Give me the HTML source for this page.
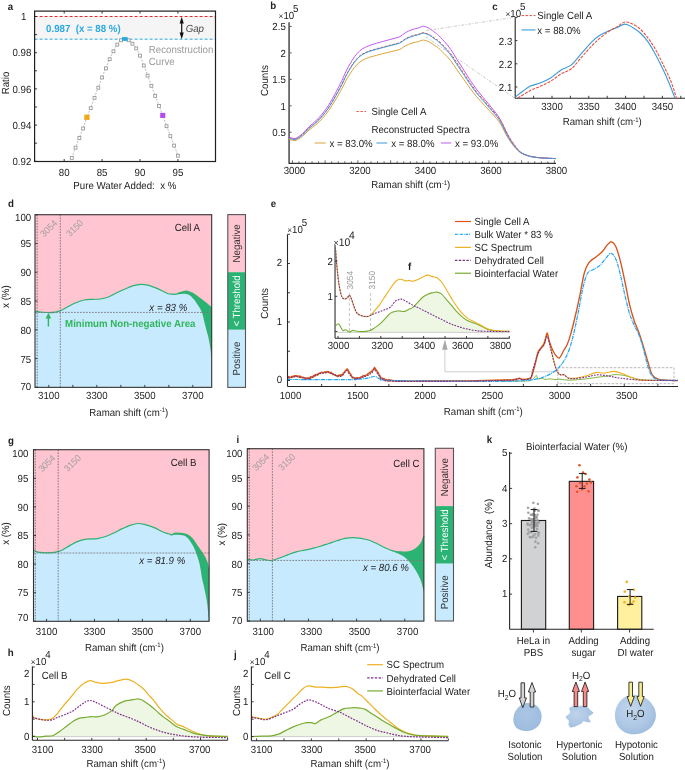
<!DOCTYPE html>
<html><head><meta charset="utf-8"><style>
html,body{margin:0;padding:0;background:#fff;width:685px;height:770px;overflow:hidden}
svg{display:block;font-family:"Liberation Sans", sans-serif;will-change:transform;text-rendering:geometricPrecision}
</style></head><body>
<svg width="685" height="770" viewBox="0 0 685 770">
<rect width="685" height="770" fill="#fff"/>
<text transform="translate(10.5 6.5) scale(0.94 1)" y="3.69" text-anchor="middle" font-size="10.3" fill="#222" font-weight="bold" >a</text>
<rect x="34.6" y="16.5" width="180.9" height="22.7" fill="#F5F5F5" stroke="none" stroke-width="1" />
<line x1="34.6" y1="16.5" x2="215.5" y2="16.5" stroke="#E8282E" stroke-width="1" stroke-dasharray="3,2"/>
<line x1="34.6" y1="39.2" x2="215.5" y2="39.2" stroke="#2BA9E1" stroke-width="1" stroke-dasharray="3,2"/>
<rect x="34.6" y="11.1" width="180.9" height="150.4" fill="none" stroke="#1e1e1e" stroke-width="1.2" />
<line x1="34.6" y1="16.5" x2="37.1" y2="16.5" stroke="#262626" stroke-width="0.9"/>
<line x1="34.6" y1="34.6" x2="37.1" y2="34.6" stroke="#262626" stroke-width="0.9"/>
<line x1="34.6" y1="52.7" x2="37.1" y2="52.7" stroke="#262626" stroke-width="0.9"/>
<line x1="34.6" y1="70.8" x2="37.1" y2="70.8" stroke="#262626" stroke-width="0.9"/>
<line x1="34.6" y1="88.9" x2="37.1" y2="88.9" stroke="#262626" stroke-width="0.9"/>
<line x1="34.6" y1="107" x2="37.1" y2="107" stroke="#262626" stroke-width="0.9"/>
<line x1="34.6" y1="125.1" x2="37.1" y2="125.1" stroke="#262626" stroke-width="0.9"/>
<line x1="34.6" y1="143.2" x2="37.1" y2="143.2" stroke="#262626" stroke-width="0.9"/>
<line x1="34.6" y1="161.3" x2="37.1" y2="161.3" stroke="#262626" stroke-width="0.9"/>
<text transform="translate(26.4 16.5) scale(0.94 1)" y="3.69" text-anchor="end" font-size="10.3" fill="#222" >1</text>
<text transform="translate(31.3 52.7) scale(0.94 1)" y="3.69" text-anchor="end" font-size="10.3" fill="#222" >0.98</text>
<text transform="translate(31.3 88.9) scale(0.94 1)" y="3.69" text-anchor="end" font-size="10.3" fill="#222" >0.96</text>
<text transform="translate(31.3 125.1) scale(0.94 1)" y="3.69" text-anchor="end" font-size="10.3" fill="#222" >0.94</text>
<text transform="translate(31.3 161.3) scale(0.94 1)" y="3.69" text-anchor="end" font-size="10.3" fill="#222" >0.92</text>
<line x1="64.2" y1="161.5" x2="64.2" y2="159" stroke="#262626" stroke-width="0.9"/>
<line x1="64.2" y1="11.1" x2="64.2" y2="13.6" stroke="#262626" stroke-width="0.9"/>
<text transform="translate(64.2 172.3) scale(0.94 1)" y="3.69" text-anchor="middle" font-size="10.3" fill="#222" >80</text>
<line x1="102.1" y1="161.5" x2="102.1" y2="159" stroke="#262626" stroke-width="0.9"/>
<line x1="102.1" y1="11.1" x2="102.1" y2="13.6" stroke="#262626" stroke-width="0.9"/>
<text transform="translate(102.1 172.3) scale(0.94 1)" y="3.69" text-anchor="middle" font-size="10.3" fill="#222" >85</text>
<line x1="140" y1="161.5" x2="140" y2="159" stroke="#262626" stroke-width="0.9"/>
<line x1="140" y1="11.1" x2="140" y2="13.6" stroke="#262626" stroke-width="0.9"/>
<text transform="translate(140 172.3) scale(0.94 1)" y="3.69" text-anchor="middle" font-size="10.3" fill="#222" >90</text>
<line x1="177.9" y1="161.5" x2="177.9" y2="159" stroke="#262626" stroke-width="0.9"/>
<line x1="177.9" y1="11.1" x2="177.9" y2="13.6" stroke="#262626" stroke-width="0.9"/>
<text transform="translate(177.9 172.3) scale(0.94 1)" y="3.69" text-anchor="middle" font-size="10.3" fill="#222" >95</text>
<text transform="translate(5.3 83) rotate(-90) scale(0.94 1)" y="3.69" text-anchor="middle" font-size="10.3" fill="#222" >Ratio</text>
<text transform="translate(124.8 185.5) scale(0.94 1)" y="3.69" text-anchor="middle" font-size="10.3" fill="#222" >Pure Water Added:&#160; x %</text>
<path d="M71.78,157.5 L75.57,147.3 L79.36,137.6 L83.15,128.1 L86.94,117.3 L90.73,107.8 L94.52,97.4 L98.31,87.3 L102.1,77.1 L105.89,68 L109.68,58.8 L113.47,50.9 L117.26,44.2 L121.05,39.9 L124.84,38.9 L128.63,39.9 L132.42,43.3 L136.21,48 L140,55.2 L143.79,65.1 L147.58,75.2 L151.37,85.4 L155.16,95.5 L158.95,105.5 L162.74,115.4 L166.53,125.8 L170.32,135.7 L174.11,145.2 L177.9,155.3" fill="none" stroke="#A6A6A6" stroke-width="0.8" stroke-dasharray="1.8,1.4"/>
<rect x="70.33" y="156.45" width="2.9" height="2.9" fill="#fff" stroke="#969696" stroke-width="0.85" />
<rect x="74.12" y="146.25" width="2.9" height="2.9" fill="#fff" stroke="#969696" stroke-width="0.85" />
<rect x="77.91" y="136.55" width="2.9" height="2.9" fill="#fff" stroke="#969696" stroke-width="0.85" />
<rect x="81.7" y="127.05" width="2.9" height="2.9" fill="#fff" stroke="#969696" stroke-width="0.85" />
<rect x="89.28" y="106.75" width="2.9" height="2.9" fill="#fff" stroke="#969696" stroke-width="0.85" />
<rect x="93.07" y="96.35" width="2.9" height="2.9" fill="#fff" stroke="#969696" stroke-width="0.85" />
<rect x="96.86" y="86.25" width="2.9" height="2.9" fill="#fff" stroke="#969696" stroke-width="0.85" />
<rect x="100.65" y="76.05" width="2.9" height="2.9" fill="#fff" stroke="#969696" stroke-width="0.85" />
<rect x="104.44" y="66.95" width="2.9" height="2.9" fill="#fff" stroke="#969696" stroke-width="0.85" />
<rect x="108.23" y="57.75" width="2.9" height="2.9" fill="#fff" stroke="#969696" stroke-width="0.85" />
<rect x="112.02" y="49.85" width="2.9" height="2.9" fill="#fff" stroke="#969696" stroke-width="0.85" />
<rect x="115.81" y="43.15" width="2.9" height="2.9" fill="#fff" stroke="#969696" stroke-width="0.85" />
<rect x="119.6" y="38.85" width="2.9" height="2.9" fill="#fff" stroke="#969696" stroke-width="0.85" />
<rect x="127.18" y="38.85" width="2.9" height="2.9" fill="#fff" stroke="#969696" stroke-width="0.85" />
<rect x="130.97" y="42.25" width="2.9" height="2.9" fill="#fff" stroke="#969696" stroke-width="0.85" />
<rect x="134.76" y="46.95" width="2.9" height="2.9" fill="#fff" stroke="#969696" stroke-width="0.85" />
<rect x="138.55" y="54.15" width="2.9" height="2.9" fill="#fff" stroke="#969696" stroke-width="0.85" />
<rect x="142.34" y="64.05" width="2.9" height="2.9" fill="#fff" stroke="#969696" stroke-width="0.85" />
<rect x="146.13" y="74.15" width="2.9" height="2.9" fill="#fff" stroke="#969696" stroke-width="0.85" />
<rect x="149.92" y="84.35" width="2.9" height="2.9" fill="#fff" stroke="#969696" stroke-width="0.85" />
<rect x="153.71" y="94.45" width="2.9" height="2.9" fill="#fff" stroke="#969696" stroke-width="0.85" />
<rect x="157.5" y="104.45" width="2.9" height="2.9" fill="#fff" stroke="#969696" stroke-width="0.85" />
<rect x="165.08" y="124.75" width="2.9" height="2.9" fill="#fff" stroke="#969696" stroke-width="0.85" />
<rect x="168.87" y="134.65" width="2.9" height="2.9" fill="#fff" stroke="#969696" stroke-width="0.85" />
<rect x="172.66" y="144.15" width="2.9" height="2.9" fill="#fff" stroke="#969696" stroke-width="0.85" />
<rect x="176.45" y="154.25" width="2.9" height="2.9" fill="#fff" stroke="#969696" stroke-width="0.85" />
<rect x="84.29" y="114.65" width="5.3" height="5.3" fill="#F2A81D" stroke="none" stroke-width="0.8" />
<rect x="122.04" y="37.1" width="5.6" height="3.8" fill="#29A9E1" stroke="none" stroke-width="1" />
<rect x="160.19" y="112.85" width="5.1" height="5.1" fill="#B54BF2" stroke="none" stroke-width="0.8" />
<text transform="translate(46.1 28) scale(0.94 1)" y="3.69" text-anchor="start" font-size="10.3" fill="#2BA9E1" font-weight="bold" >0.987&#160; (x = 88 %)</text>
<line x1="181.7" y1="20" x2="181.7" y2="36" stroke="#111" stroke-width="1.2"/>
<path d="M181.7,16.8 L179.6,23.6 L183.8,23.6 Z" fill="#111" stroke="none" stroke-width="1"/>
<path d="M181.7,39.2 L179.6,32.6 L183.8,32.6 Z" fill="#111" stroke="none" stroke-width="1"/>
<text transform="translate(185.7 28.2) scale(0.94 1)" y="3.69" text-anchor="start" font-size="10.3" fill="#444" font-style="italic" >Gap</text>
<text transform="translate(148.8 49.4) scale(0.94 1)" y="3.69" text-anchor="start" font-size="10.3" fill="#9A9A9A" >Reconstruction</text>
<text transform="translate(148.8 60.8) scale(0.94 1)" y="3.69" text-anchor="start" font-size="10.3" fill="#9A9A9A" >Curve</text>
<text transform="translate(273.3 5.3) scale(0.94 1)" y="3.69" text-anchor="middle" font-size="10.3" fill="#222" font-weight="bold" >b</text>
<text transform="translate(278.6 14.8) scale(0.94 1)" y="3.69" font-size="10.3" fill="#222"><tspan font-size="8.75">&#215;</tspan>10<tspan font-size="10.3" dx="-1.2" dy="-7">5</tspan></text>
<line x1="292.4" y1="163.3" x2="292.4" y2="160.3" stroke="#444" stroke-width="0.8"/>
<line x1="298.95" y1="163.3" x2="298.95" y2="161.3" stroke="#444" stroke-width="0.8"/>
<line x1="305.5" y1="163.3" x2="305.5" y2="161.3" stroke="#444" stroke-width="0.8"/>
<line x1="312.05" y1="163.3" x2="312.05" y2="161.3" stroke="#444" stroke-width="0.8"/>
<line x1="318.6" y1="163.3" x2="318.6" y2="161.3" stroke="#444" stroke-width="0.8"/>
<line x1="325.15" y1="163.3" x2="325.15" y2="160.3" stroke="#444" stroke-width="0.8"/>
<line x1="331.7" y1="163.3" x2="331.7" y2="161.3" stroke="#444" stroke-width="0.8"/>
<line x1="338.25" y1="163.3" x2="338.25" y2="161.3" stroke="#444" stroke-width="0.8"/>
<line x1="344.8" y1="163.3" x2="344.8" y2="161.3" stroke="#444" stroke-width="0.8"/>
<line x1="351.35" y1="163.3" x2="351.35" y2="161.3" stroke="#444" stroke-width="0.8"/>
<line x1="357.9" y1="163.3" x2="357.9" y2="160.3" stroke="#444" stroke-width="0.8"/>
<line x1="364.45" y1="163.3" x2="364.45" y2="161.3" stroke="#444" stroke-width="0.8"/>
<line x1="371" y1="163.3" x2="371" y2="161.3" stroke="#444" stroke-width="0.8"/>
<line x1="377.55" y1="163.3" x2="377.55" y2="161.3" stroke="#444" stroke-width="0.8"/>
<line x1="384.1" y1="163.3" x2="384.1" y2="161.3" stroke="#444" stroke-width="0.8"/>
<line x1="390.65" y1="163.3" x2="390.65" y2="160.3" stroke="#444" stroke-width="0.8"/>
<line x1="397.2" y1="163.3" x2="397.2" y2="161.3" stroke="#444" stroke-width="0.8"/>
<line x1="403.75" y1="163.3" x2="403.75" y2="161.3" stroke="#444" stroke-width="0.8"/>
<line x1="410.3" y1="163.3" x2="410.3" y2="161.3" stroke="#444" stroke-width="0.8"/>
<line x1="416.85" y1="163.3" x2="416.85" y2="161.3" stroke="#444" stroke-width="0.8"/>
<line x1="423.4" y1="163.3" x2="423.4" y2="160.3" stroke="#444" stroke-width="0.8"/>
<line x1="429.95" y1="163.3" x2="429.95" y2="161.3" stroke="#444" stroke-width="0.8"/>
<line x1="436.5" y1="163.3" x2="436.5" y2="161.3" stroke="#444" stroke-width="0.8"/>
<line x1="443.05" y1="163.3" x2="443.05" y2="161.3" stroke="#444" stroke-width="0.8"/>
<line x1="449.6" y1="163.3" x2="449.6" y2="161.3" stroke="#444" stroke-width="0.8"/>
<line x1="456.15" y1="163.3" x2="456.15" y2="160.3" stroke="#444" stroke-width="0.8"/>
<line x1="462.7" y1="163.3" x2="462.7" y2="161.3" stroke="#444" stroke-width="0.8"/>
<line x1="469.25" y1="163.3" x2="469.25" y2="161.3" stroke="#444" stroke-width="0.8"/>
<line x1="475.8" y1="163.3" x2="475.8" y2="161.3" stroke="#444" stroke-width="0.8"/>
<line x1="482.35" y1="163.3" x2="482.35" y2="161.3" stroke="#444" stroke-width="0.8"/>
<line x1="488.9" y1="163.3" x2="488.9" y2="160.3" stroke="#444" stroke-width="0.8"/>
<line x1="495.45" y1="163.3" x2="495.45" y2="161.3" stroke="#444" stroke-width="0.8"/>
<line x1="502" y1="163.3" x2="502" y2="161.3" stroke="#444" stroke-width="0.8"/>
<line x1="508.55" y1="163.3" x2="508.55" y2="161.3" stroke="#444" stroke-width="0.8"/>
<line x1="515.1" y1="163.3" x2="515.1" y2="161.3" stroke="#444" stroke-width="0.8"/>
<line x1="521.65" y1="163.3" x2="521.65" y2="160.3" stroke="#444" stroke-width="0.8"/>
<line x1="528.2" y1="163.3" x2="528.2" y2="161.3" stroke="#444" stroke-width="0.8"/>
<line x1="534.75" y1="163.3" x2="534.75" y2="161.3" stroke="#444" stroke-width="0.8"/>
<line x1="541.3" y1="163.3" x2="541.3" y2="161.3" stroke="#444" stroke-width="0.8"/>
<line x1="547.85" y1="163.3" x2="547.85" y2="161.3" stroke="#444" stroke-width="0.8"/>
<line x1="554.4" y1="163.3" x2="554.4" y2="160.3" stroke="#444" stroke-width="0.8"/>
<line x1="289.1" y1="132.25" x2="291.6" y2="132.25" stroke="#444" stroke-width="0.9"/>
<text transform="translate(285.8 132.25) scale(0.94 1)" y="3.69" text-anchor="end" font-size="10.3" fill="#222" >0.5</text>
<line x1="289.1" y1="105.8" x2="291.6" y2="105.8" stroke="#444" stroke-width="0.9"/>
<text transform="translate(285.8 105.8) scale(0.94 1)" y="3.69" text-anchor="end" font-size="10.3" fill="#222" >1</text>
<line x1="289.1" y1="79.35" x2="291.6" y2="79.35" stroke="#444" stroke-width="0.9"/>
<text transform="translate(285.8 79.35) scale(0.94 1)" y="3.69" text-anchor="end" font-size="10.3" fill="#222" >1.5</text>
<line x1="289.1" y1="52.9" x2="291.6" y2="52.9" stroke="#444" stroke-width="0.9"/>
<text transform="translate(285.8 52.9) scale(0.94 1)" y="3.69" text-anchor="end" font-size="10.3" fill="#222" >2</text>
<line x1="289.1" y1="26.45" x2="291.6" y2="26.45" stroke="#444" stroke-width="0.9"/>
<text transform="translate(285.8 26.45) scale(0.94 1)" y="3.69" text-anchor="end" font-size="10.3" fill="#222" >2.5</text>
<text transform="translate(294.4 170.4) scale(0.94 1)" y="3.69" text-anchor="middle" font-size="10.3" fill="#222" >3000</text>
<text transform="translate(359.9 170.4) scale(0.94 1)" y="3.69" text-anchor="middle" font-size="10.3" fill="#222" >3200</text>
<text transform="translate(425.4 170.4) scale(0.94 1)" y="3.69" text-anchor="middle" font-size="10.3" fill="#222" >3400</text>
<text transform="translate(490.9 170.4) scale(0.94 1)" y="3.69" text-anchor="middle" font-size="10.3" fill="#222" >3600</text>
<text transform="translate(556.4 170.4) scale(0.94 1)" y="3.69" text-anchor="middle" font-size="10.3" fill="#222" >3800</text>
<line x1="289.1" y1="22.2" x2="289.1" y2="163.9" stroke="#666" stroke-width="1.8"/>
<line x1="289.1" y1="163.3" x2="556" y2="163.3" stroke="#333" stroke-width="1.2"/>
<text transform="translate(263.8 80.6) rotate(-90) scale(0.94 1)" y="3.69" text-anchor="middle" font-size="10.3" fill="#222" >Counts</text>
<text transform="translate(410.7 184.4) scale(0.94 1)" y="3.69" text-anchor="middle" font-size="10.3" fill="#222">Raman shift (cm<tspan font-size="6.38" dy="-3.4">-1</tspan><tspan dy="3.4">)</tspan></text>
<path d="M288.8,139.33 C289.33,139.47 290.8,140 292,140.18 C293.2,140.35 294.25,141.01 296,140.37 C297.75,139.72 300.32,138.02 302.5,136.3 C304.68,134.59 306.9,131.97 309.1,130.07 C311.3,128.16 313.52,126.77 315.7,124.87 C317.88,122.96 320.02,121.04 322.2,118.63 C324.38,116.22 326.6,113.51 328.8,110.41 C331,107.31 333.22,103.64 335.4,100.02 C337.58,96.39 340.17,91.87 341.9,88.68 C343.63,85.48 344.45,83.3 345.8,80.83 C347.15,78.36 348.53,76.09 350,73.84 C351.47,71.59 352.93,69.32 354.6,67.32 C356.27,65.32 358.18,63.26 360,61.84 C361.82,60.42 363.67,59.65 365.5,58.81 C367.33,57.98 369.17,57.41 371,56.83 C372.83,56.25 374.62,55.82 376.5,55.32 C378.38,54.81 380.35,54.29 382.3,53.81 C384.25,53.32 386.25,52.86 388.2,52.39 C390.15,51.92 392.05,51.47 394,50.97 C395.95,50.47 398,50.21 399.9,49.36 C401.8,48.51 403.38,46.91 405.4,45.87 C407.42,44.83 409.8,43.85 412,43.13 C414.2,42.4 416.7,42.02 418.6,41.52 C420.5,41.02 421.58,40.01 423.4,40.1 C425.22,40.2 427.57,41.14 429.5,42.09 C431.43,43.03 433.67,44.91 435,45.77 C436.33,46.64 435.98,45.99 437.5,47.28 C439.02,48.58 441.9,51.29 444.1,53.52 C446.3,55.76 448.52,57.95 450.7,60.7 C452.88,63.46 455.02,66.96 457.2,70.06 C459.38,73.16 461.6,76.22 463.8,79.32 C466,82.42 468.22,85.73 470.4,88.68 C472.58,91.62 474.72,94.41 476.9,96.99 C479.08,99.57 481.3,101.76 483.5,104.17 C485.7,106.58 487.92,109.04 490.1,111.45 C492.28,113.86 494.78,116.4 496.6,118.63 C498.42,120.87 499.17,121.77 501,124.87 C502.83,127.97 505.4,133.63 507.6,137.25 C509.8,140.87 512.02,144.01 514.2,146.6 C516.38,149.2 518.15,151.22 520.7,152.84 C523.25,154.46 526.22,155.5 529.5,156.34 C532.78,157.17 536.02,157.47 540.4,157.85 C544.78,158.23 553.23,158.48 555.8,158.61" fill="none" stroke="#DCA33A" stroke-width="1"/>
<path d="M288.8,137.07 C289.33,137.23 290.8,137.83 292,138.02 C293.2,138.22 294.25,138.95 296,138.23 C297.75,137.51 300.32,135.61 302.5,133.7 C304.68,131.78 306.9,128.86 309.1,126.73 C311.3,124.61 313.52,123.06 315.7,120.93 C317.88,118.8 320.02,116.66 322.2,113.97 C324.38,111.28 326.6,108.25 328.8,104.79 C331,101.33 333.22,97.23 335.4,93.18 C337.58,89.14 340.17,84.09 341.9,80.52 C343.63,76.96 344.45,74.53 345.8,71.77 C347.15,69.01 348.53,66.48 350,63.96 C351.47,61.45 352.93,58.91 354.6,56.68 C356.27,54.45 358.18,52.15 360,50.56 C361.82,48.98 363.67,48.12 365.5,47.19 C367.33,46.25 369.17,45.62 371,44.97 C372.83,44.32 374.62,43.85 376.5,43.28 C378.38,42.72 380.35,42.14 382.3,41.6 C384.25,41.05 386.25,40.54 388.2,40.01 C390.15,39.49 392.05,38.99 394,38.43 C395.95,37.87 398,37.59 399.9,36.64 C401.8,35.69 403.38,33.89 405.4,32.73 C407.42,31.57 409.8,30.48 412,29.67 C414.2,28.86 416.7,28.44 418.6,27.88 C420.5,27.32 421.58,26.19 423.4,26.3 C425.22,26.4 427.57,27.46 429.5,28.51 C431.43,29.57 433.67,31.66 435,32.63 C436.33,33.59 435.98,32.87 437.5,34.32 C439.02,35.76 441.9,38.78 444.1,41.28 C446.3,43.78 448.52,46.22 450.7,49.3 C452.88,52.37 455.02,56.28 457.2,59.74 C459.38,63.2 461.6,66.62 463.8,70.08 C466,73.54 468.22,77.24 470.4,80.52 C472.58,83.81 474.72,86.92 476.9,89.81 C479.08,92.69 481.3,95.14 483.5,97.83 C485.7,100.52 487.92,103.26 490.1,105.95 C492.28,108.64 494.78,111.47 496.6,113.97 C498.42,116.46 499.17,117.47 501,120.93 C502.83,124.39 505.4,130.71 507.6,134.75 C509.8,138.8 512.02,142.29 514.2,145.2 C516.38,148.1 518.15,150.35 520.7,152.16 C523.25,153.97 526.22,155.13 529.5,156.06 C532.78,156.99 536.02,157.33 540.4,157.75 C544.78,158.17 553.23,158.45 555.8,158.59" fill="none" stroke="#C25AF7" stroke-width="1"/>
<path d="M288.8,137.7 C289.33,137.85 290.8,138.42 292,138.6 C293.2,138.78 294.25,139.48 296,138.8 C297.75,138.12 300.32,136.32 302.5,134.5 C304.68,132.68 306.9,129.92 309.1,127.9 C311.3,125.88 313.52,124.42 315.7,122.4 C317.88,120.38 320.02,118.35 322.2,115.8 C324.38,113.25 326.6,110.38 328.8,107.1 C331,103.82 333.22,99.93 335.4,96.1 C337.58,92.27 340.17,87.48 341.9,84.1 C343.63,80.72 344.45,78.42 345.8,75.8 C347.15,73.18 348.53,70.78 350,68.4 C351.47,66.02 352.93,63.62 354.6,61.5 C356.27,59.38 358.18,57.2 360,55.7 C361.82,54.2 363.67,53.38 365.5,52.5 C367.33,51.62 369.17,51.02 371,50.4 C372.83,49.78 374.62,49.33 376.5,48.8 C378.38,48.27 380.35,47.72 382.3,47.2 C384.25,46.68 386.25,46.2 388.2,45.7 C390.15,45.2 392.05,44.73 394,44.2 C395.95,43.67 398,43.4 399.9,42.5 C401.8,41.6 403.38,39.9 405.4,38.8 C407.42,37.7 409.8,36.67 412,35.9 C414.2,35.13 416.7,34.73 418.6,34.2 C420.5,33.67 421.42,32.52 423.4,32.7 C425.38,32.88 428.4,34.22 430.5,35.3 C432.6,36.38 434.67,38.28 436,39.2 C437.33,40.12 436.98,39.43 438.5,40.8 C440.02,42.17 442.9,45.03 445.1,47.4 C447.3,49.77 449.52,52.08 451.7,55 C453.88,57.92 456.02,61.62 458.2,64.9 C460.38,68.18 462.6,71.42 464.8,74.7 C467,77.98 469.22,81.48 471.4,84.6 C473.58,87.72 475.72,90.67 477.9,93.4 C480.08,96.13 482.3,98.45 484.5,101 C486.7,103.55 488.92,106.15 491.1,108.7 C493.28,111.25 495.78,113.93 497.6,116.3 C499.42,118.67 500.17,119.62 502,122.9 C503.83,126.18 506.4,132.17 508.6,136 C510.8,139.83 513.18,143.15 515.2,145.9 C517.22,148.65 518.32,150.78 520.7,152.5 C523.08,154.22 526.22,155.32 529.5,156.2 C532.78,157.08 536.02,157.4 540.4,157.8 C544.78,158.2 553.23,158.47 555.8,158.6" fill="none" stroke="#EE4B3C" stroke-width="1" stroke-dasharray="2.5,1.5"/>
<path d="M288.8,138.2 C289.33,138.35 290.8,138.92 292,139.1 C293.2,139.28 294.25,139.98 296,139.3 C297.75,138.62 300.32,136.82 302.5,135 C304.68,133.18 306.9,130.42 309.1,128.4 C311.3,126.38 313.52,124.92 315.7,122.9 C317.88,120.88 320.02,118.85 322.2,116.3 C324.38,113.75 326.6,110.88 328.8,107.6 C331,104.32 333.22,100.43 335.4,96.6 C337.58,92.77 340.17,87.98 341.9,84.6 C343.63,81.22 344.45,78.92 345.8,76.3 C347.15,73.68 348.53,71.28 350,68.9 C351.47,66.52 352.93,64.12 354.6,62 C356.27,59.88 358.18,57.7 360,56.2 C361.82,54.7 363.67,53.88 365.5,53 C367.33,52.12 369.17,51.52 371,50.9 C372.83,50.28 374.62,49.83 376.5,49.3 C378.38,48.77 380.35,48.22 382.3,47.7 C384.25,47.18 386.25,46.7 388.2,46.2 C390.15,45.7 392.05,45.23 394,44.7 C395.95,44.17 398,43.9 399.9,43 C401.8,42.1 403.38,40.4 405.4,39.3 C407.42,38.2 409.8,37.17 412,36.4 C414.2,35.63 416.7,35.23 418.6,34.7 C420.5,34.17 421.58,33.1 423.4,33.2 C425.22,33.3 427.57,34.3 429.5,35.3 C431.43,36.3 433.67,38.28 435,39.2 C436.33,40.12 435.98,39.43 437.5,40.8 C439.02,42.17 441.9,45.03 444.1,47.4 C446.3,49.77 448.52,52.08 450.7,55 C452.88,57.92 455.02,61.62 457.2,64.9 C459.38,68.18 461.6,71.42 463.8,74.7 C466,77.98 468.22,81.48 470.4,84.6 C472.58,87.72 474.72,90.67 476.9,93.4 C479.08,96.13 481.3,98.45 483.5,101 C485.7,103.55 487.92,106.15 490.1,108.7 C492.28,111.25 494.78,113.93 496.6,116.3 C498.42,118.67 499.17,119.62 501,122.9 C502.83,126.18 505.4,132.17 507.6,136 C509.8,139.83 512.02,143.15 514.2,145.9 C516.38,148.65 518.15,150.78 520.7,152.5 C523.25,154.22 526.22,155.32 529.5,156.2 C532.78,157.08 536.02,157.4 540.4,157.8 C544.78,158.2 553.23,158.47 555.8,158.6" fill="none" stroke="#3A9BD8" stroke-width="1"/>
<line x1="356.4" y1="111.5" x2="366" y2="111.5" stroke="#EE4B3C" stroke-width="0.9" stroke-dasharray="2.5,1.5"/>
<text transform="translate(371.5 111.5) scale(0.94 1)" y="3.69" text-anchor="start" font-size="10.3" fill="#222" >Single Cell A</text>
<text transform="translate(371.5 129.5) scale(0.94 1)" y="3.69" text-anchor="start" font-size="10.3" fill="#222" >Reconstructed Spectra</text>
<line x1="314.6" y1="143" x2="325.7" y2="143" stroke="#DCA33A" stroke-width="1"/>
<text transform="translate(329.4 143) scale(0.94 1)" y="3.69" text-anchor="start" font-size="10.3" fill="#222" >x = 83.0%</text>
<line x1="376.4" y1="143" x2="387.2" y2="143" stroke="#3A9BD8" stroke-width="1"/>
<text transform="translate(391.2 143) scale(0.94 1)" y="3.69" text-anchor="start" font-size="10.3" fill="#222" >x = 88.0%</text>
<line x1="440.9" y1="143" x2="451.2" y2="143" stroke="#C25AF7" stroke-width="1"/>
<text transform="translate(455 143) scale(0.94 1)" y="3.69" text-anchor="start" font-size="10.3" fill="#222" >x = 93.0%</text>
<line x1="426.6" y1="30.5" x2="514.8" y2="17.2" stroke="#B0B0B0" stroke-width="0.7" stroke-dasharray="3,1.5,1,1.5"/>
<line x1="425.6" y1="36.6" x2="514.8" y2="98.3" stroke="#B0B0B0" stroke-width="0.7" stroke-dasharray="3,1.5,1,1.5"/>
<text transform="translate(495 6.2) scale(0.94 1)" y="3.69" text-anchor="middle" font-size="10.3" fill="#222" font-weight="bold" >c</text>
<text transform="translate(505.5 12.9) scale(0.94 1)" y="3.69" font-size="10.3" fill="#222"><tspan font-size="8.75">&#215;</tspan>10<tspan font-size="10.3" dx="-1.2" dy="-7">5</tspan></text>
<line x1="515.2" y1="87" x2="517.4" y2="87" stroke="#262626" stroke-width="0.9"/>
<text transform="translate(512.3 87.5) scale(0.94 1)" y="3.69" text-anchor="end" font-size="10.3" fill="#222" >2.1</text>
<line x1="515.2" y1="63.8" x2="517.4" y2="63.8" stroke="#262626" stroke-width="0.9"/>
<text transform="translate(512.3 64.3) scale(0.94 1)" y="3.69" text-anchor="end" font-size="10.3" fill="#222" >2.2</text>
<line x1="515.2" y1="40.6" x2="517.4" y2="40.6" stroke="#262626" stroke-width="0.9"/>
<text transform="translate(512.3 41.1) scale(0.94 1)" y="3.69" text-anchor="end" font-size="10.3" fill="#222" >2.3</text>
<line x1="515.2" y1="17.4" x2="517.4" y2="17.4" stroke="#262626" stroke-width="0.9"/>
<line x1="533.6" y1="98.3" x2="533.6" y2="95.8" stroke="#262626" stroke-width="0.9"/>
<line x1="552" y1="98.3" x2="552" y2="95.8" stroke="#262626" stroke-width="0.9"/>
<line x1="570.4" y1="98.3" x2="570.4" y2="95.8" stroke="#262626" stroke-width="0.9"/>
<line x1="588.8" y1="98.3" x2="588.8" y2="95.8" stroke="#262626" stroke-width="0.9"/>
<line x1="607.2" y1="98.3" x2="607.2" y2="95.8" stroke="#262626" stroke-width="0.9"/>
<line x1="625.6" y1="98.3" x2="625.6" y2="95.8" stroke="#262626" stroke-width="0.9"/>
<line x1="644" y1="98.3" x2="644" y2="95.8" stroke="#262626" stroke-width="0.9"/>
<line x1="662.4" y1="98.3" x2="662.4" y2="95.8" stroke="#262626" stroke-width="0.9"/>
<line x1="680.8" y1="98.3" x2="680.8" y2="95.8" stroke="#262626" stroke-width="0.9"/>
<text transform="translate(552 106.5) scale(0.94 1)" y="3.69" text-anchor="middle" font-size="10.3" fill="#222" >3300</text>
<text transform="translate(588.8 106.5) scale(0.94 1)" y="3.69" text-anchor="middle" font-size="10.3" fill="#222" >3350</text>
<text transform="translate(625.6 106.5) scale(0.94 1)" y="3.69" text-anchor="middle" font-size="10.3" fill="#222" >3400</text>
<text transform="translate(662.4 106.5) scale(0.94 1)" y="3.69" text-anchor="middle" font-size="10.3" fill="#222" >3450</text>
<line x1="515.2" y1="17.2" x2="515.2" y2="98.3" stroke="#262626" stroke-width="1.1"/>
<line x1="515.2" y1="98.3" x2="685" y2="98.3" stroke="#262626" stroke-width="1.1"/>
<text transform="translate(602.2 121.3) scale(0.94 1)" y="3.69" text-anchor="middle" font-size="10.3" fill="#222">Raman shift (cm<tspan font-size="6.38" dy="-3.4">-1</tspan><tspan dy="3.4">)</tspan></text>
<path d="M515.4,96.9 C516.63,95.95 520.3,93 522.8,91.2 C525.3,89.4 527.42,87.5 530.4,86.1 C533.38,84.7 537.28,84.2 540.7,82.8 C544.12,81.4 547.5,79.83 550.9,77.7 C554.3,75.57 557.7,72.13 561.1,70 C564.5,67.87 567.9,67.67 571.3,64.9 C574.7,62.13 578.08,57.23 581.5,53.4 C584.92,49.57 588.82,44.88 591.8,41.9 C594.78,38.92 596.63,37.32 599.4,35.5 C602.17,33.68 605.42,32.35 608.4,31 C611.38,29.65 614.53,28.55 617.3,27.4 C620.07,26.25 622.45,24.1 625,24.1 C627.55,24.1 630.05,25.92 632.6,27.4 C635.15,28.88 637.73,30.58 640.3,33 C642.87,35.42 645.45,38.28 648,41.9 C650.55,45.52 653.05,50.02 655.6,54.7 C658.15,59.38 661.17,65.53 663.3,70 C665.43,74.47 666.7,77.45 668.4,81.5 C670.1,85.55 672.43,91.53 673.5,94.3 C674.57,97.07 674.58,97.47 674.8,98.1" fill="none" stroke="#3A9BD8" stroke-width="1.1"/>
<path d="M517.7,98.1 C519.82,96.83 526.57,92.5 530.4,90.5 C534.23,88.5 537.28,87.68 540.7,86.1 C544.12,84.52 547.5,83.03 550.9,81 C554.3,78.97 557.7,75.93 561.1,73.9 C564.5,71.87 567.9,71.57 571.3,68.8 C574.7,66.03 578.08,61.13 581.5,57.3 C584.92,53.47 588.82,48.92 591.8,45.8 C594.78,42.68 596.63,40.95 599.4,38.6 C602.17,36.25 605.42,33.7 608.4,31.7 C611.38,29.7 614.53,28.22 617.3,26.6 C620.07,24.98 622.45,22.42 625,22 C627.55,21.58 630.05,22.9 632.6,24.1 C635.15,25.3 637.73,26.87 640.3,29.2 C642.87,31.53 645.45,34.7 648,38.1 C650.55,41.5 653.05,45.13 655.6,49.6 C658.15,54.07 660.73,59.58 663.3,64.9 C665.87,70.22 668.87,76.17 671,81.5 C673.13,86.83 675.05,94.1 676.1,96.9 C677.15,99.7 677.1,98.07 677.3,98.3" fill="none" stroke="#EE4B3C" stroke-width="1.1" stroke-dasharray="3,1.2"/>
<line x1="521.5" y1="15.6" x2="535.5" y2="15.6" stroke="#EE4B3C" stroke-width="1" stroke-dasharray="2.5,1.5"/>
<text transform="translate(537.3 15.6) scale(0.94 1)" y="3.69" text-anchor="start" font-size="10.3" fill="#222" >Single Cell A</text>
<line x1="521.5" y1="29.9" x2="535.5" y2="29.9" stroke="#3A9BD8" stroke-width="1.1"/>
<text transform="translate(537.3 29.9) scale(0.94 1)" y="3.69" text-anchor="start" font-size="10.3" fill="#222" >x = 88.0%</text>
<text transform="translate(11 203.2) scale(0.94 1)" y="3.69" text-anchor="middle" font-size="10.3" fill="#222" font-weight="bold" >d</text>
<rect x="35" y="214.7" width="176.7" height="172.65" fill="#FFC5D1" stroke="none" stroke-width="1" />
<path d="M35,387.35 L35,311.6 L35.4,311.6 L40.8,312.1 L48.9,312.6 L55.7,312.1 L61.1,310.3 L67.8,306.7 L75.9,302.8 L84,300 L92.1,299.3 L100.2,299 L108.3,297 L116.4,293 L124.5,289.2 L132.6,285.9 L140.7,284.4 L148.8,285.4 L156.9,288.4 L163,291.2 L167.6,293.5 L171.5,294.2 L176,294.2 L176,294.2 L181.5,293.9 L186,293.9 L188.8,294.8 L191,296.2 L192.6,297.9 L194.9,300.6 L197.1,304 L199.3,307.3 L201.5,311.2 L202.8,315.1 L204.3,321.5 L206.2,329.3 L208.2,336.4 L209.5,342.9 L210.6,350.1 L211.1,355.3 L211.7,358 L211.7,358 L211.7,387.35 Z" fill="#C7EAFE" stroke="none" stroke-width="1"/>
<path d="M176,294.2 C176.47,293.98 177.88,293.22 178.8,292.9 C179.72,292.58 180.3,292.58 181.5,292.3 C182.7,292.02 184.78,291.28 186,291.2 C187.22,291.12 187.7,291.43 188.8,291.8 C189.9,292.17 191.4,292.77 192.6,293.4 C193.8,294.03 194.88,294.82 196,295.6 C197.12,296.38 198.2,297.27 199.3,298.1 C200.4,298.93 201.48,299.77 202.6,300.6 C203.72,301.43 204.88,302.22 206,303.1 C207.12,303.98 208.35,305.15 209.3,305.9 C210.25,306.65 211.3,307.32 211.7,307.6 L211.7,307.6 L211.7,358 211.7,358 C211.6,357.55 211.28,356.62 211.1,355.3 C210.92,353.98 210.87,352.17 210.6,350.1 C210.33,348.03 209.9,345.18 209.5,342.9 C209.1,340.62 208.75,338.67 208.2,336.4 C207.65,334.13 206.85,331.78 206.2,329.3 C205.55,326.82 204.87,323.87 204.3,321.5 C203.73,319.13 203.27,316.82 202.8,315.1 C202.33,313.38 202.08,312.5 201.5,311.2 C200.92,309.9 200.03,308.5 199.3,307.3 C198.57,306.1 197.83,305.12 197.1,304 C196.37,302.88 195.65,301.62 194.9,300.6 C194.15,299.58 193.25,298.63 192.6,297.9 C191.95,297.17 191.63,296.72 191,296.2 C190.37,295.68 189.63,295.18 188.8,294.8 C187.97,294.42 187.22,294.05 186,293.9 C184.78,293.75 183.17,293.85 181.5,293.9 C179.83,293.95 176.92,294.15 176,294.2 Z" fill="#2AB372" stroke="none" stroke-width="1"/>
<path d="M35.4,311.6 C36.3,311.68 38.55,311.93 40.8,312.1 C43.05,312.27 46.42,312.6 48.9,312.6 C51.38,312.6 53.67,312.48 55.7,312.1 C57.73,311.72 59.08,311.2 61.1,310.3 C63.12,309.4 65.33,307.95 67.8,306.7 C70.27,305.45 73.2,303.92 75.9,302.8 C78.6,301.68 81.3,300.58 84,300 C86.7,299.42 89.4,299.47 92.1,299.3 C94.8,299.13 97.5,299.38 100.2,299 C102.9,298.62 105.6,298 108.3,297 C111,296 113.7,294.3 116.4,293 C119.1,291.7 121.8,290.38 124.5,289.2 C127.2,288.02 129.9,286.7 132.6,285.9 C135.3,285.1 138,284.48 140.7,284.4 C143.4,284.32 146.1,284.73 148.8,285.4 C151.5,286.07 154.53,287.43 156.9,288.4 C159.27,289.37 161.22,290.35 163,291.2 C164.78,292.05 166.18,293 167.6,293.5 C169.02,294 170.1,294.08 171.5,294.2 C172.9,294.32 174.78,294.42 176,294.2 C177.22,293.98 177.88,293.22 178.8,292.9 C179.72,292.58 180.3,292.58 181.5,292.3 C182.7,292.02 184.78,291.28 186,291.2 C187.22,291.12 187.7,291.43 188.8,291.8 C189.9,292.17 191.4,292.77 192.6,293.4 C193.8,294.03 194.88,294.82 196,295.6 C197.12,296.38 198.2,297.27 199.3,298.1 C200.4,298.93 201.48,299.77 202.6,300.6 C203.72,301.43 204.88,302.22 206,303.1 C207.12,303.98 208.35,305.15 209.3,305.9 C210.25,306.65 211.3,307.32 211.7,307.6" fill="none" stroke="#2DB170" stroke-width="1.2"/>
<line x1="37.2" y1="214.7" x2="37.2" y2="387.35" stroke="#555" stroke-width="0.7" stroke-dasharray="1.6,1.2"/>
<line x1="60.3" y1="214.7" x2="60.3" y2="387.35" stroke="#555" stroke-width="0.7" stroke-dasharray="1.6,1.2"/>
<line x1="35" y1="312.4" x2="211.7" y2="312.4" stroke="#7a7a7a" stroke-width="0.9" stroke-dasharray="1.8,1.2"/>
<text transform="translate(48.6 228.3) rotate(-45) scale(0.94 1)" y="3.36" text-anchor="middle" font-size="9.39" fill="#A0A0A0" >3054</text>
<text transform="translate(74.5 228) rotate(-45) scale(0.94 1)" y="3.36" text-anchor="middle" font-size="9.39" fill="#A0A0A0" >3150</text>
<rect x="35" y="214.7" width="176.7" height="172.65" fill="none" stroke="#333" stroke-width="1.1" />
<line x1="35" y1="214.7" x2="37.5" y2="214.7" stroke="#333" stroke-width="0.9"/>
<text transform="translate(31.2 217.5) scale(0.94 1)" y="3.69" text-anchor="end" font-size="10.3" fill="#222" >100</text>
<line x1="35" y1="243.47" x2="37.5" y2="243.47" stroke="#333" stroke-width="0.9"/>
<text transform="translate(31.2 243.4) scale(0.94 1)" y="3.69" text-anchor="end" font-size="10.3" fill="#222" >95</text>
<line x1="35" y1="272.25" x2="37.5" y2="272.25" stroke="#333" stroke-width="0.9"/>
<text transform="translate(31.2 272.2) scale(0.94 1)" y="3.69" text-anchor="end" font-size="10.3" fill="#222" >90</text>
<line x1="35" y1="301.02" x2="37.5" y2="301.02" stroke="#333" stroke-width="0.9"/>
<text transform="translate(31.2 300.9) scale(0.94 1)" y="3.69" text-anchor="end" font-size="10.3" fill="#222" >85</text>
<line x1="35" y1="329.8" x2="37.5" y2="329.8" stroke="#333" stroke-width="0.9"/>
<text transform="translate(31.2 330.3) scale(0.94 1)" y="3.69" text-anchor="end" font-size="10.3" fill="#222" >80</text>
<line x1="35" y1="358.58" x2="37.5" y2="358.58" stroke="#333" stroke-width="0.9"/>
<text transform="translate(31.2 358.8) scale(0.94 1)" y="3.69" text-anchor="end" font-size="10.3" fill="#222" >75</text>
<line x1="35" y1="387.35" x2="37.5" y2="387.35" stroke="#333" stroke-width="0.9"/>
<text transform="translate(31.2 386.5) scale(0.94 1)" y="3.69" text-anchor="end" font-size="10.3" fill="#222" >70</text>
<line x1="48.8" y1="387.35" x2="48.8" y2="384.85" stroke="#333" stroke-width="0.9"/>
<line x1="72.8" y1="387.35" x2="72.8" y2="384.85" stroke="#333" stroke-width="0.9"/>
<line x1="96.8" y1="387.35" x2="96.8" y2="384.85" stroke="#333" stroke-width="0.9"/>
<line x1="120.8" y1="387.35" x2="120.8" y2="384.85" stroke="#333" stroke-width="0.9"/>
<line x1="144.8" y1="387.35" x2="144.8" y2="384.85" stroke="#333" stroke-width="0.9"/>
<line x1="168.8" y1="387.35" x2="168.8" y2="384.85" stroke="#333" stroke-width="0.9"/>
<line x1="192.8" y1="387.35" x2="192.8" y2="384.85" stroke="#333" stroke-width="0.9"/>
<text transform="translate(48.8 395.4) scale(0.94 1)" y="3.69" text-anchor="middle" font-size="10.3" fill="#222" >3100</text>
<text transform="translate(96.8 395.4) scale(0.94 1)" y="3.69" text-anchor="middle" font-size="10.3" fill="#222" >3300</text>
<text transform="translate(144.8 395.4) scale(0.94 1)" y="3.69" text-anchor="middle" font-size="10.3" fill="#222" >3500</text>
<text transform="translate(192.8 395.4) scale(0.94 1)" y="3.69" text-anchor="middle" font-size="10.3" fill="#222" >3700</text>
<text transform="translate(187.3 307.7) scale(0.94 1)" y="3.69" text-anchor="end" font-size="10.3" fill="#222" font-style="italic" >x = 83 %</text>
<text transform="translate(200 227.3) scale(0.94 1)" y="3.69" text-anchor="end" font-size="10.3" fill="#222" >Cell A</text>
<rect x="227.8" y="214.6" width="17.7" height="57.6" fill="#FFC5D1" stroke="none" stroke-width="1" />
<rect x="227.8" y="272.2" width="17.7" height="57.6" fill="#2AB372" stroke="none" stroke-width="1" />
<rect x="227.8" y="329.8" width="17.7" height="57.6" fill="#C7EAFE" stroke="none" stroke-width="1" />
<rect x="227.8" y="214.6" width="17.7" height="172.8" fill="none" stroke="#555" stroke-width="1.1" />
<text transform="translate(236.65 243.4) rotate(-90) scale(0.94 1)" y="3.69" text-anchor="middle" font-size="10.3" fill="#333" >Negative</text>
<text transform="translate(236.65 301) rotate(-90) scale(0.94 1)" y="3.69" text-anchor="middle" font-size="10.3" fill="#fff" >&lt; Threshold</text>
<text transform="translate(236.65 358.6) rotate(-90) scale(0.94 1)" y="3.69" text-anchor="middle" font-size="10.3" fill="#333" >Positive</text>
<text transform="translate(65.1 323.2) scale(0.94 1)" y="3.69" text-anchor="start" font-size="10.3" fill="#2FB55A" font-weight="bold" >Minimum Non-negative Area</text>
<line x1="48.4" y1="326.5" x2="48.4" y2="316.5" stroke="#2FB55A" stroke-width="1.4"/>
<path d="M48.4,313 L45.6,318.5 L51.2,318.5 Z" fill="#2FB55A" stroke="none" stroke-width="1"/>
<text transform="translate(5.7 296.6) rotate(-90) scale(0.94 1)" y="3.69" text-anchor="middle" font-size="10.3" fill="#222" >x (%)</text>
<text transform="translate(128.8 412) scale(0.94 1)" y="3.69" text-anchor="middle" font-size="10.3" fill="#222">Raman shift (cm<tspan font-size="6.38" dy="-3.4">-1</tspan><tspan dy="3.4">)</tspan></text>
<text transform="translate(273.4 203.3) scale(0.94 1)" y="3.69" text-anchor="middle" font-size="10.3" fill="#222" font-weight="bold" >e</text>
<text transform="translate(287.3 228.9) scale(0.94 1)" y="3.69" font-size="10.3" fill="#222"><tspan font-size="8.75">&#215;</tspan>10<tspan font-size="10.3" dx="-1.2" dy="-7">5</tspan></text>
<line x1="287.5" y1="380.5" x2="290" y2="380.5" stroke="#262626" stroke-width="0.9"/>
<line x1="287.5" y1="351.25" x2="290" y2="351.25" stroke="#262626" stroke-width="0.9"/>
<line x1="287.5" y1="322" x2="290" y2="322" stroke="#262626" stroke-width="0.9"/>
<line x1="287.5" y1="292.75" x2="290" y2="292.75" stroke="#262626" stroke-width="0.9"/>
<line x1="287.5" y1="263.5" x2="290" y2="263.5" stroke="#262626" stroke-width="0.9"/>
<line x1="287.5" y1="234.25" x2="290" y2="234.25" stroke="#262626" stroke-width="0.9"/>
<text transform="translate(282.2 379.7) scale(0.94 1)" y="3.69" text-anchor="end" font-size="10.3" fill="#222" >0</text>
<text transform="translate(282.2 321.2) scale(0.94 1)" y="3.69" text-anchor="end" font-size="10.3" fill="#222" >1</text>
<text transform="translate(282.2 262.7) scale(0.94 1)" y="3.69" text-anchor="end" font-size="10.3" fill="#222" >2</text>
<line x1="321.62" y1="386.45" x2="321.62" y2="383.95" stroke="#262626" stroke-width="0.9"/>
<line x1="355.25" y1="386.45" x2="355.25" y2="383.95" stroke="#262626" stroke-width="0.9"/>
<line x1="388.88" y1="386.45" x2="388.88" y2="383.95" stroke="#262626" stroke-width="0.9"/>
<line x1="422.5" y1="386.45" x2="422.5" y2="383.95" stroke="#262626" stroke-width="0.9"/>
<line x1="456.12" y1="386.45" x2="456.12" y2="383.95" stroke="#262626" stroke-width="0.9"/>
<line x1="489.75" y1="386.45" x2="489.75" y2="383.95" stroke="#262626" stroke-width="0.9"/>
<line x1="523.38" y1="386.45" x2="523.38" y2="383.95" stroke="#262626" stroke-width="0.9"/>
<line x1="557" y1="386.45" x2="557" y2="383.95" stroke="#262626" stroke-width="0.9"/>
<line x1="590.62" y1="386.45" x2="590.62" y2="383.95" stroke="#262626" stroke-width="0.9"/>
<line x1="624.25" y1="386.45" x2="624.25" y2="383.95" stroke="#262626" stroke-width="0.9"/>
<line x1="657.88" y1="386.45" x2="657.88" y2="383.95" stroke="#262626" stroke-width="0.9"/>
<text transform="translate(290.5 395.7) scale(0.94 1)" y="3.69" text-anchor="middle" font-size="10.3" fill="#222" >1000</text>
<text transform="translate(357.75 395.7) scale(0.94 1)" y="3.69" text-anchor="middle" font-size="10.3" fill="#222" >1500</text>
<text transform="translate(425 395.7) scale(0.94 1)" y="3.69" text-anchor="middle" font-size="10.3" fill="#222" >2000</text>
<text transform="translate(492.25 395.7) scale(0.94 1)" y="3.69" text-anchor="middle" font-size="10.3" fill="#222" >2500</text>
<text transform="translate(559.5 395.7) scale(0.94 1)" y="3.69" text-anchor="middle" font-size="10.3" fill="#222" >3000</text>
<text transform="translate(626.75 395.7) scale(0.94 1)" y="3.69" text-anchor="middle" font-size="10.3" fill="#222" >3500</text>
<text transform="translate(264.2 303.4) rotate(-90) scale(0.94 1)" y="3.69" text-anchor="middle" font-size="10.3" fill="#222" >Counts</text>
<text transform="translate(483.3 410.9) scale(0.94 1)" y="3.69" text-anchor="middle" font-size="10.3" fill="#222">Raman shift (cm<tspan font-size="6.38" dy="-3.4">-1</tspan><tspan dy="3.4">)</tspan></text>
<rect x="557.9" y="367.7" width="116.1" height="16" fill="none" stroke="#9A9A9A" stroke-width="0.7" stroke-dasharray="2.5,1.5"/>
<path d="M444.9,349.5 L444.9,371.8 L557.9,371.8" fill="none" stroke="#C8C8C8" stroke-width="0.9"/>
<path d="M444.9,339.5 L442.1,349.8 L447.7,349.8 Z" fill="#A8A8A8" stroke="none" stroke-width="1"/>
<path d="M500,381.2 C504.17,381.17 519.83,381.17 525,381 C530.17,380.83 529.5,380.7 531,380.2 C532.5,379.7 533.1,378.78 534,378 C534.9,377.22 535.73,375.33 536.4,375.5 C537.07,375.67 537.07,378.55 538,379 C538.93,379.45 540.83,378.13 542,378.2 C543.17,378.27 543.67,379.3 545,379.4 C546.33,379.5 548.33,378.77 550,378.8 C551.67,378.83 553.33,379.53 555,379.6 C556.67,379.67 557.5,379.1 560,379.2 C562.5,379.3 565.57,380.27 570,380.2 C574.43,380.13 581.95,379.3 586.6,378.8 C591.25,378.3 594.33,377.67 597.9,377.2 C601.47,376.73 605.17,376.43 608,376 C610.83,375.57 612.07,374.67 614.9,374.6 C617.73,374.53 621.42,374.9 625,375.6 C628.58,376.3 632.23,378.02 636.4,378.8 C640.57,379.58 643.07,380.02 650,380.3 C656.93,380.58 673.33,380.47 678,380.5" fill="none" stroke="#77AC30" stroke-width="0.9"/>
<path d="M288,377.61 L288.8,377.67 L289.6,378.02 L290.4,377.46 L291.2,377.44 L292,377.43 L292.8,376.82 L293.6,377.01 L294.4,376.97 L295.2,377.03 L296,376.31 L296.8,376.59 L297.6,376.4 L298.4,377.24 L299.2,377.27 L300,376.7 L300.8,377.89 L301.6,377.98 L302.4,377.74 L303.2,377.79 L304,377.66 L304.8,378.05 L305.6,379.16 L306.4,378.78 L307.2,378.64 L308,378.42 L308.8,378 L309.6,378.3 L310.4,378.03 L311.2,378.08 L312,377.32 L312.8,377.05 L313.6,376.5 L314.4,376.28 L315.2,375.65 L316,375.06 L316.8,375.46 L317.6,375.07 L318.4,374.51 L319.2,373.97 L320,373.14 L320.8,372.84 L321.6,372.79 L322.4,372.44 L323.2,373.1 L324,372.59 L324.8,372.89 L325.6,372.2 L326.4,372.64 L327.2,372.45 L328,371.79 L328.8,372.29 L329.6,373.34 L330.4,373.12 L331.2,373.96 L332,373.59 L332.8,373.68 L333.6,374.74 L334.4,375.35 L335.2,375.24 L336,375.49 L336.8,376.2 L337.6,376.91 L338.4,376.56 L339.2,375.73 L340,375.74 L340.8,375.45 L341.6,375.28 L342.4,375.5 L343.2,373.78 L344,373.15 L344.8,371.97 L345.6,370.6 L346.4,370.1 L347.2,369.49 L348,371.26 L348.8,371.88 L349.6,373.45 L350.4,374.46 L351.2,375.76 L352,377.76 L352.8,378.06 L353.6,377.89 L354.4,378.91 L355.2,378.54 L356,378.76 L356.8,379.08 L357.6,378.65 L358.4,377.87 L359.2,378.65 L360,377.61 L360.8,377.47 L361.6,377.84 L362.4,377.11 L363.2,376.67 L364,376.02 L364.8,375.63 L365.6,375.77 L366.4,374.99 L367.2,374.97 L368,374.32 L368.8,374 L369.6,373.99 L370.4,372.88 L371.2,372.39 L372,372.12 L372.8,370.43 L373.6,369.25 L374.4,368.93 L375.2,368.95 L376,369.74 L376.8,371.08 L377.6,373.08 L378.4,374.69 L379.2,375.26 L380,377.48 L380.8,378.67 L381.6,378.76 L382.4,378.96 L383.2,379.01 L384,379.34 L384.8,380.76 L385.6,380.36 L386.4,380.96 L387.2,380.52 L388,381.18 L388.8,380.98 L389.6,380.69 L390.4,380.61 L391.2,381.25 L391.2,381.25 C392.67,381.21 393.53,381.04 400,381 C406.47,380.96 418.33,381.03 430,381 C441.67,380.97 460,380.9 470,380.8 C480,380.7 484.17,380.53 490,380.4 C495.83,380.27 501.33,380.1 505,380 C508.67,379.9 510,379.97 512,379.8 C514,379.63 515.75,379.27 517,379 C518.25,378.73 518.67,378.15 519.5,378.2 C520.33,378.25 520.58,379.2 522,379.3 C523.42,379.4 526.5,379.1 528,378.8 C529.5,378.5 530.17,378.97 531,377.5 C531.83,376.03 532.03,373.25 533,370 C533.97,366.75 535.63,361.5 536.8,358 C537.97,354.5 538.87,351.42 540,349 C541.13,346.58 542.43,345.75 543.6,343.5 C544.77,341.25 545.87,335 547,335.5 C548.13,336 549.27,342.25 550.4,346.5 C551.53,350.75 552.67,356.83 553.8,361 C554.93,365.17 556.07,369.2 557.2,371.5 C558.33,373.8 559.47,374.25 560.6,374.8 C561.73,375.35 562.68,374.27 564,374.8 C565.32,375.33 566.67,377.43 568.5,378 C570.33,378.57 571.98,378.57 575,378.2 C578.02,377.83 583.17,376.73 586.6,375.8 C590.03,374.87 592.58,373.07 595.6,372.6 C598.62,372.13 601.48,373.2 604.7,373 C607.92,372.8 611.52,371.1 614.9,371.4 C618.28,371.7 621.42,373.47 625,374.8 C628.58,376.13 632.23,378.47 636.4,379.4 C640.57,380.33 643.07,380.22 650,380.4 C656.93,380.58 673.33,380.48 678,380.5" fill="none" stroke="#EDB120" stroke-width="1.1"/>
<path d="M288,376.49 L288.8,376.61 L289.6,376.92 L290.4,377.18 L291.2,376.86 L292,376.39 L292.8,376.93 L293.6,375.97 L294.4,375.6 L295.2,375.76 L296,376 L296.8,375.62 L297.6,375.8 L298.4,376.06 L299.2,376.43 L300,376.1 L300.8,376.51 L301.6,377.2 L302.4,377.4 L303.2,377.14 L304,377.55 L304.8,377.98 L305.6,378.03 L306.4,378.05 L307.2,377.75 L308,378.45 L308.8,378.04 L309.6,378.15 L310.4,376.87 L311.2,377.15 L312,376.58 L312.8,376.45 L313.6,375.6 L314.4,375.95 L315.2,374.53 L316,374.66 L316.8,374.48 L317.6,374.26 L318.4,373.69 L319.2,373.26 L320,372.97 L320.8,372.89 L321.6,372.16 L322.4,372.42 L323.2,372.55 L324,372.41 L324.8,371.72 L325.6,371.95 L326.4,371.84 L327.2,371.45 L328,371.78 L328.8,371.78 L329.6,372.27 L330.4,372.58 L331.2,372.27 L332,373.15 L332.8,373.99 L333.6,374.31 L334.4,374.6 L335.2,374.67 L336,375.5 L336.8,375.78 L337.6,375.64 L338.4,375.95 L339.2,374.99 L340,375.6 L340.8,374.67 L341.6,375.18 L342.4,374.46 L343.2,373.13 L344,372.6 L344.8,371.32 L345.6,370.36 L346.4,369.61 L347.2,368.93 L348,369.86 L348.8,371.38 L349.6,373.03 L350.4,373.75 L351.2,374.95 L352,376.99 L352.8,377.21 L353.6,377.34 L354.4,378.21 L355.2,377.97 L356,378.36 L356.8,377.66 L357.6,377.72 L358.4,377.94 L359.2,377.87 L360,377.64 L360.8,376.91 L361.6,376.93 L362.4,376.4 L363.2,375.79 L364,375.78 L364.8,375.75 L365.6,375.36 L366.4,374.8 L367.2,374.66 L368,373.51 L368.8,372.99 L369.6,372.73 L370.4,371.95 L371.2,371.29 L372,370.93 L372.8,370.22 L373.6,368.92 L374.4,367.57 L375.2,368.28 L376,369.84 L376.8,370.67 L377.6,371.65 L378.4,372.99 L379.2,375.31 L380,375.78 L380.8,377.78 L381.6,378.03 L382.4,378.14 L383.2,379.07 L384,378.62 L384.8,379.15 L385.6,379.9 L386.4,379.52 L387.2,380.45 L388,379.84 L388.8,379.78 L389.6,379.72 L390.4,380.41 L391.2,380.25 L391.2,380.25 C392.67,380.37 393.53,380.87 400,381 C406.47,381.13 418.33,381.03 430,381 C441.67,380.97 460,380.9 470,380.8 C480,380.7 484.17,380.53 490,380.4 C495.83,380.27 501.33,380.1 505,380 C508.67,379.9 510,379.97 512,379.8 C514,379.63 515.75,379.27 517,379 C518.25,378.73 518.67,378.15 519.5,378.2 C520.33,378.25 520.58,379.2 522,379.3 C523.42,379.4 526.5,379.1 528,378.8 C529.5,378.5 530.17,378.63 531,377.5 C531.83,376.37 532.22,374.58 533,372 C533.78,369.42 534.87,365.33 535.7,362 C536.53,358.67 537.07,354.38 538,352 C538.93,349.62 540.18,349.18 541.3,347.7 C542.42,346.22 543.75,345.55 544.7,343.1 C545.65,340.65 546.25,333.37 547,333 C547.75,332.63 548.27,338.07 549.2,340.9 C550.13,343.73 551.47,347.55 552.6,350 C553.73,352.45 554.87,354.28 556,355.6 C557.13,356.92 558.07,358.83 559.4,357.9 C560.73,356.97 562.68,352.27 564,350 C565.32,347.73 566.18,346.95 567.3,344.3 C568.42,341.65 569.37,338.82 570.7,334.1 C572.03,329.38 573.78,322.42 575.3,316 C576.82,309.58 578.3,302.77 579.8,295.6 C581.3,288.43 582.8,278.47 584.3,273 C585.8,267.53 586.92,265.43 588.8,262.8 C590.68,260.17 593.33,259.08 595.6,257.2 C597.87,255.32 600.52,253.47 602.4,251.5 C604.28,249.53 605.38,247.02 606.9,245.4 C608.42,243.78 609.98,241.53 611.5,241.8 C613.02,242.07 614.5,243.68 616,247 C617.5,250.32 619,255.87 620.5,261.7 C622,267.53 623.48,274.83 625,282 C626.52,289.17 628.08,298.28 629.6,304.7 C631.12,311.12 632.6,315.98 634.1,320.5 C635.6,325.02 637.1,327.65 638.6,331.8 C640.1,335.95 641.58,340.48 643.1,345.4 C644.62,350.32 646.18,356.4 647.7,361.3 C649.22,366.2 650.32,371.78 652.2,374.8 C654.08,377.82 655.6,378.45 659,379.4 C662.4,380.35 669.43,380.32 672.6,380.5 C675.77,380.68 677.1,380.5 678,380.5" fill="none" stroke="#D95319" stroke-width="1.35"/>
<path d="M288,379.5 C298.33,379.52 338.83,379.62 350,379.6 C361.17,379.58 352.5,379.57 355,379.4 C357.5,379.23 361.7,379.08 365,378.6 C368.3,378.12 372.3,376.4 374.8,376.5 C377.3,376.6 378.3,378.57 380,379.2 C381.7,379.83 376.67,380 385,380.3 C393.33,380.6 410.83,380.83 430,381 C449.17,381.17 484.17,381.37 500,381.3 C515.83,381.23 519.17,380.93 525,380.6 C530.83,380.27 531.9,379.9 535,379.3 C538.1,378.7 540.67,378.12 543.6,377 C546.53,375.88 549.97,374.28 552.6,372.6 C555.23,370.92 557.13,369.55 559.4,366.9 C561.67,364.25 564.12,361.03 566.2,356.7 C568.28,352.37 570.02,347.68 571.9,340.9 C573.78,334.12 575.62,325.05 577.5,316 C579.38,306.95 581.5,293.77 583.2,286.6 C584.9,279.43 586,275.83 587.7,273 C589.4,270.17 591.32,270.92 593.4,269.6 C595.48,268.28 598.13,266.98 600.2,265.1 C602.27,263.22 604,260.27 605.8,258.3 C607.6,256.33 609.3,253.12 611,253.3 C612.7,253.48 614.42,255.73 616,259.4 C617.58,263.07 619,269.27 620.5,275.3 C622,281.33 623.48,289.2 625,295.6 C626.52,302 628.08,308.8 629.6,313.7 C631.12,318.6 632.6,321.6 634.1,325 C635.6,328.4 637.1,330.32 638.6,334.1 C640.1,337.88 641.58,342.42 643.1,347.7 C644.62,352.98 646.18,361.08 647.7,365.8 C649.22,370.52 650.32,373.67 652.2,376 C654.08,378.33 654.7,379.05 659,379.8 C663.3,380.55 674.83,380.38 678,380.5" fill="none" stroke="#1EA4F5" stroke-width="1.2" stroke-dasharray="4,0.8,1,0.8"/>
<path d="M288,377.89 L288.8,377.86 L289.6,377.96 L290.4,378.05 L291.2,377.72 L292,377.14 L292.8,377.24 L293.6,376.78 L294.4,376.44 L295.2,376.78 L296,377.07 L296.8,376.58 L297.6,376.73 L298.4,376.85 L299.2,377.35 L300,377.33 L300.8,377.58 L301.6,377.83 L302.4,377.56 L303.2,378.06 L304,378.55 L304.8,378.27 L305.6,379.66 L306.4,379.58 L307.2,378.71 L308,378.75 L308.8,378.74 L309.6,378.85 L310.4,378.08 L311.2,377.87 L312,377.78 L312.8,377.3 L313.6,377.04 L314.4,376.16 L315.2,375.95 L316,375.11 L316.8,375.24 L317.6,374.94 L318.4,374.37 L319.2,374.06 L320,373.16 L320.8,373.63 L321.6,373.6 L322.4,373.49 L323.2,372.95 L324,373.09 L324.8,372.43 L325.6,372.84 L326.4,372.6 L327.2,372.02 L328,372.02 L328.8,372.65 L329.6,373.03 L330.4,373.52 L331.2,373.52 L332,373.33 L332.8,374.56 L333.6,374.26 L334.4,375.44 L335.2,375.26 L336,375.88 L336.8,376.78 L337.6,376.14 L338.4,376.02 L339.2,376.26 L340,376.34 L340.8,376.33 L341.6,376.05 L342.4,375.85 L343.2,374.59 L344,374.25 L344.8,372.51 L345.6,371.56 L346.4,370.77 L347.2,370.59 L348,372.23 L348.8,373.34 L349.6,374.27 L350.4,375.63 L351.2,376.39 L352,377.18 L352.8,377.71 L353.6,378.55 L354.4,378.98 L355.2,378.67 L356,379.33 L356.8,379.26 L357.6,378.62 L358.4,378.48 L359.2,377.92 L360,378.06 L360.8,377.84 L361.6,377.75 L362.4,376.95 L363.2,377.58 L364,376.82 L364.8,376.39 L365.6,376.48 L366.4,375.93 L367.2,375.55 L368,375.44 L368.8,374.5 L369.6,374.42 L370.4,373.71 L371.2,373.67 L372,373.04 L372.8,371.45 L373.6,370.5 L374.4,369 L375.2,369.44 L376,371.23 L376.8,372.72 L377.6,373.63 L378.4,374.67 L379.2,375.74 L380,377.37 L380.8,378.78 L381.6,378.38 L382.4,379.43 L383.2,379.07 L384,379.64 L384.8,380.08 L385.6,380.94 L386.4,380.66 L387.2,380.74 L388,381.05 L388.8,380.58 L389.6,381.25 L390.4,380.69 L391.2,381.12 L391.2,381.12 C392.67,381.17 393.53,381.35 400,381.4 C406.47,381.45 418.33,381.43 430,381.4 C441.67,381.37 460,381.3 470,381.2 C480,381.1 484.17,380.93 490,380.8 C495.83,380.67 501.33,380.5 505,380.4 C508.67,380.3 510,380.37 512,380.2 C514,380.03 515.75,379.67 517,379.4 C518.25,379.13 518.67,378.55 519.5,378.6 C520.33,378.65 520.58,379.6 522,379.7 C523.42,379.8 526.5,379.5 528,379.2 C529.5,378.9 530.17,379.43 531,377.9 C531.83,376.37 532.03,373.53 533,370 C533.97,366.47 535.63,360.03 536.8,356.7 C537.97,353.37 538.87,351.88 540,350 C541.13,348.12 542.43,347.67 543.6,345.4 C544.77,343.13 545.87,336.02 547,336.4 C548.13,336.78 549.27,343.55 550.4,347.7 C551.53,351.85 552.67,357.33 553.8,361.3 C554.93,365.27 556.07,369.25 557.2,371.5 C558.33,373.75 559.47,374.25 560.6,374.8 C561.73,375.35 562.68,374.23 564,374.8 C565.32,375.37 566.67,377.57 568.5,378.2 C570.33,378.83 571.98,378.8 575,378.6 C578.02,378.4 582.78,377.63 586.6,377 C590.42,376.37 594,374.92 597.9,374.8 C601.8,374.68 606.23,375.73 610,376.3 C613.77,376.87 615,377.55 620.5,378.2 C626,378.85 633.42,379.82 643,380.2 C652.58,380.58 672.17,380.45 678,380.5" fill="none" stroke="#7E2F8E" stroke-width="1.1" stroke-dasharray="1.8,1.2"/>
<line x1="287.5" y1="234.4" x2="287.5" y2="386.45" stroke="#262626" stroke-width="1.1"/>
<line x1="287.5" y1="386.45" x2="678" y2="386.45" stroke="#262626" stroke-width="1.1"/>
<line x1="455" y1="221.5" x2="471" y2="221.5" stroke="#D95319" stroke-width="1.2"/>
<text transform="translate(474.6 221.5) scale(0.94 1)" y="3.69" text-anchor="start" font-size="10.3" fill="#222" >Single Cell A</text>
<line x1="455" y1="234.43" x2="471" y2="234.43" stroke="#1EA4F5" stroke-width="1.2" stroke-dasharray="2.5,1,0.8,1"/>
<text transform="translate(474.6 234.43) scale(0.94 1)" y="3.69" text-anchor="start" font-size="10.3" fill="#222" >Bulk Water * 83 %</text>
<line x1="455" y1="247.36" x2="471" y2="247.36" stroke="#EDB120" stroke-width="1.2"/>
<text transform="translate(474.6 247.36) scale(0.94 1)" y="3.69" text-anchor="start" font-size="10.3" fill="#222" >SC Spectrum</text>
<line x1="455" y1="260.29" x2="471" y2="260.29" stroke="#7E2F8E" stroke-width="1.2" stroke-dasharray="2.4,1.4"/>
<text transform="translate(474.6 260.29) scale(0.94 1)" y="3.69" text-anchor="start" font-size="10.3" fill="#222" >Dehydrated Cell</text>
<line x1="455" y1="273.22" x2="471" y2="273.22" stroke="#77AC30" stroke-width="1.2"/>
<text transform="translate(474.6 273.22) scale(0.94 1)" y="3.69" text-anchor="start" font-size="10.3" fill="#222" >Biointerfacial Water</text>
<path d="M370.2,330.6 C370.92,330.15 372.87,329.03 374.5,327.9 C376.13,326.77 378.18,325.38 380,323.8 C381.82,322.22 383.58,320.22 385.4,318.4 C387.22,316.58 389.08,314.12 390.9,312.9 C392.72,311.68 394.73,311.4 396.3,311.1 C397.87,310.8 398.92,311.05 400.3,311.1 C401.68,311.15 403.15,311.7 404.6,311.4 C406.05,311.1 407.68,309.93 409,309.3 C410.32,308.67 411.03,308.77 412.5,307.6 C413.97,306.43 416.05,304.07 417.8,302.3 C419.55,300.53 421.25,298.4 423,297 C424.75,295.6 426.68,294.62 428.3,293.9 C429.92,293.18 431.25,293 432.7,292.7 C434.15,292.4 435.55,291.9 437,292.1 C438.45,292.3 439.93,292.78 441.4,293.9 C442.87,295.02 444.18,296.97 445.8,298.8 C447.42,300.63 449.35,302.85 451.1,304.9 C452.85,306.95 454.55,309.2 456.3,311.1 C458.05,313 459.85,314.78 461.6,316.3 C463.35,317.82 465.05,319.18 466.8,320.2 C468.55,321.22 470.35,321.73 472.1,322.4 C473.85,323.07 475.55,323.47 477.3,324.2 C479.05,324.93 480.83,325.92 482.6,326.8 C484.37,327.68 485.85,328.85 487.9,329.5 C489.95,330.15 491.33,330.38 494.9,330.7 C498.47,331.02 506.9,331.28 509.3,331.4 L509.3,332.4 L370.2,332.4 Z" fill="#EEF6E4" stroke="none" stroke-width="1"/>
<line x1="335.05" y1="332.4" x2="509.3" y2="332.4" stroke="#C8C8C8" stroke-width="0.9"/>
<line x1="349.4" y1="293" x2="349.4" y2="332" stroke="#B8B8B8" stroke-width="0.8" stroke-dasharray="3,2"/>
<line x1="370.6" y1="293" x2="370.6" y2="332" stroke="#B8B8B8" stroke-width="0.8" stroke-dasharray="3,2"/>
<text transform="translate(350.3 280.2) rotate(-90) scale(0.94 1)" y="3.17" text-anchor="middle" font-size="8.86" fill="#9A9A9A" >3054</text>
<text transform="translate(371.5 280.2) rotate(-90) scale(0.94 1)" y="3.17" text-anchor="middle" font-size="8.86" fill="#9A9A9A" >3150</text>
<path d="M335.5,325.9 C335.98,325.55 337.47,323.47 338.4,323.8 C339.33,324.13 340.3,326.77 341.1,327.9 C341.9,329.03 342.4,330.3 343.2,330.6 C344,330.9 344.88,329.47 345.9,329.7 C346.92,329.93 348.17,331.88 349.3,332 C350.43,332.12 351.45,330.52 352.7,330.4 C353.95,330.28 354.98,331.1 356.8,331.3 C358.62,331.5 361.37,331.72 363.6,331.6 C365.83,331.48 368.38,331.22 370.2,330.6 C372.02,329.98 372.87,329.03 374.5,327.9 C376.13,326.77 378.18,325.38 380,323.8 C381.82,322.22 383.58,320.22 385.4,318.4 C387.22,316.58 389.08,314.12 390.9,312.9 C392.72,311.68 394.73,311.4 396.3,311.1 C397.87,310.8 398.92,311.05 400.3,311.1 C401.68,311.15 403.15,311.7 404.6,311.4 C406.05,311.1 407.68,309.93 409,309.3 C410.32,308.67 411.03,308.77 412.5,307.6 C413.97,306.43 416.05,304.07 417.8,302.3 C419.55,300.53 421.25,298.4 423,297 C424.75,295.6 426.68,294.62 428.3,293.9 C429.92,293.18 431.25,293 432.7,292.7 C434.15,292.4 435.55,291.9 437,292.1 C438.45,292.3 439.93,292.78 441.4,293.9 C442.87,295.02 444.18,296.97 445.8,298.8 C447.42,300.63 449.35,302.85 451.1,304.9 C452.85,306.95 454.55,309.2 456.3,311.1 C458.05,313 459.85,314.78 461.6,316.3 C463.35,317.82 465.05,319.18 466.8,320.2 C468.55,321.22 470.35,321.73 472.1,322.4 C473.85,323.07 475.55,323.47 477.3,324.2 C479.05,324.93 480.83,325.92 482.6,326.8 C484.37,327.68 485.85,328.85 487.9,329.5 C489.95,330.15 491.33,330.38 494.9,330.7 C498.47,331.02 506.9,331.28 509.3,331.4" fill="none" stroke="#77AC30" stroke-width="1.1"/>
<path d="M335.4,247.5 C335.67,250.8 336.38,261.05 337,267.3 C337.62,273.55 338.3,280.12 339.1,285 C339.9,289.88 340.9,294.28 341.8,296.6 C342.7,298.92 343.58,298.68 344.5,298.9 C345.42,299.12 346.5,298.52 347.3,297.9 C348.1,297.28 348.63,295.08 349.3,295.2 C349.97,295.32 350.5,296.67 351.3,298.6 C352.1,300.53 353.18,304.42 354.1,306.8 C355.02,309.18 355.67,311.43 356.8,312.9 C357.93,314.37 359.32,314.98 360.9,315.6 C362.48,316.22 364.75,316.6 366.3,316.6 C367.85,316.6 368.83,316.55 370.2,315.6 C371.57,314.65 372.87,312.82 374.5,310.9 C376.13,308.98 378.18,306.6 380,304.1 C381.82,301.6 383.58,298.63 385.4,295.9 C387.22,293.17 389.3,289.98 390.9,287.7 C392.5,285.42 393.73,283.57 395,282.2 C396.27,280.83 397.33,279.95 398.5,279.5 C399.67,279.05 400.83,279.27 402,279.5 C403.17,279.73 404.33,280.75 405.5,280.9 C406.67,281.05 407.83,280.33 409,280.4 C410.17,280.47 411.03,281.45 412.5,281.3 C413.97,281.15 416.05,280.23 417.8,279.5 C419.55,278.77 421.4,277.63 423,276.9 C424.6,276.17 425.93,275.18 427.4,275.1 C428.87,275.02 430.2,275.95 431.8,276.4 C433.4,276.85 435.25,276.7 437,277.8 C438.75,278.9 440.53,280.67 442.3,283 C444.07,285.33 445.85,288.88 447.6,291.8 C449.35,294.72 451.05,297.73 452.8,300.5 C454.55,303.27 456.35,306.05 458.1,308.4 C459.85,310.75 461.55,312.85 463.3,314.6 C465.05,316.35 466.85,317.73 468.6,318.9 C470.35,320.07 472.05,320.72 473.8,321.6 C475.55,322.48 477.35,323.27 479.1,324.2 C480.85,325.13 482.55,326.32 484.3,327.2 C486.05,328.08 487.55,328.92 489.6,329.5 C491.65,330.08 493.32,330.38 496.6,330.7 C499.88,331.02 507.18,331.28 509.3,331.4" fill="none" stroke="#EDB120" stroke-width="1.1"/>
<path d="M335.4,247.5 C335.67,250.8 336.38,261.05 337,267.3 C337.62,273.55 338.3,280.12 339.1,285 C339.9,289.88 340.9,294.28 341.8,296.6 C342.7,298.92 343.58,298.68 344.5,298.9 C345.42,299.12 346.5,298.52 347.3,297.9 C348.1,297.28 348.63,295.08 349.3,295.2 C349.97,295.32 350.5,296.67 351.3,298.6 C352.1,300.53 353.18,304.42 354.1,306.8 C355.02,309.18 355.67,311.43 356.8,312.9 C357.93,314.37 359.32,314.98 360.9,315.6 C362.48,316.22 364.75,316.6 366.3,316.6 C367.85,316.6 368.83,316.1 370.2,315.6 C371.57,315.1 372.87,314.27 374.5,313.6 C376.13,312.93 378.18,312.28 380,311.6 C381.82,310.92 383.58,310.3 385.4,309.5 C387.22,308.7 389.3,308.15 390.9,306.8 C392.5,305.45 393.73,302.58 395,301.4 C396.27,300.22 397.48,300.08 398.5,299.7 C399.52,299.32 399.93,298.9 401.1,299.1 C402.27,299.3 403.88,300.07 405.5,300.9 C407.12,301.73 409.05,303.13 410.8,304.1 C412.55,305.07 414.25,305.83 416,306.7 C417.75,307.57 419.55,308.43 421.3,309.3 C423.05,310.17 424.75,311.02 426.5,311.9 C428.25,312.78 430.05,313.72 431.8,314.6 C433.55,315.48 435.25,316.33 437,317.2 C438.75,318.07 440.53,318.93 442.3,319.8 C444.07,320.67 445.85,321.58 447.6,322.4 C449.35,323.22 451.05,324.02 452.8,324.7 C454.55,325.38 456.05,325.85 458.1,326.5 C460.15,327.15 462.48,327.97 465.1,328.6 C467.72,329.23 470.88,329.87 473.8,330.3 C476.72,330.73 476.68,330.98 482.6,331.2 C488.52,331.42 504.85,331.53 509.3,331.6" fill="none" stroke="#7E2F8E" stroke-width="1.1" stroke-dasharray="1.8,1.2"/>
<line x1="335.05" y1="245" x2="335.05" y2="338.3" stroke="#666" stroke-width="1.5"/>
<line x1="335.05" y1="338.3" x2="509.6" y2="338.3" stroke="#262626" stroke-width="1.1"/>
<line x1="338" y1="338.3" x2="338" y2="336" stroke="#262626" stroke-width="0.9"/>
<line x1="359.41" y1="338.3" x2="359.41" y2="336" stroke="#262626" stroke-width="0.9"/>
<line x1="380.82" y1="338.3" x2="380.82" y2="336" stroke="#262626" stroke-width="0.9"/>
<line x1="402.23" y1="338.3" x2="402.23" y2="336" stroke="#262626" stroke-width="0.9"/>
<line x1="423.64" y1="338.3" x2="423.64" y2="336" stroke="#262626" stroke-width="0.9"/>
<line x1="445.05" y1="338.3" x2="445.05" y2="336" stroke="#262626" stroke-width="0.9"/>
<line x1="466.46" y1="338.3" x2="466.46" y2="336" stroke="#262626" stroke-width="0.9"/>
<line x1="487.87" y1="338.3" x2="487.87" y2="336" stroke="#262626" stroke-width="0.9"/>
<line x1="509.28" y1="338.3" x2="509.28" y2="336" stroke="#262626" stroke-width="0.9"/>
<line x1="335.05" y1="331.4" x2="337.35" y2="331.4" stroke="#262626" stroke-width="0.9"/>
<line x1="335.05" y1="296.3" x2="337.35" y2="296.3" stroke="#262626" stroke-width="0.9"/>
<line x1="335.05" y1="261.2" x2="337.35" y2="261.2" stroke="#262626" stroke-width="0.9"/>
<text transform="translate(332.8 296.3) scale(0.94 1)" y="3.69" text-anchor="end" font-size="10.3" fill="#222" >1</text>
<text transform="translate(332.8 261.2) scale(0.94 1)" y="3.69" text-anchor="end" font-size="10.3" fill="#222" >2</text>
<text transform="translate(338.5 345.6) scale(0.94 1)" y="3.69" text-anchor="middle" font-size="10.3" fill="#222" >3000</text>
<text transform="translate(382.3 345.6) scale(0.94 1)" y="3.69" text-anchor="middle" font-size="10.3" fill="#222" >3200</text>
<text transform="translate(424.4 345.6) scale(0.94 1)" y="3.69" text-anchor="middle" font-size="10.3" fill="#222" >3400</text>
<text transform="translate(462.7 345.6) scale(0.94 1)" y="3.69" text-anchor="middle" font-size="10.3" fill="#222" >3600</text>
<text transform="translate(500.4 345.6) scale(0.94 1)" y="3.69" text-anchor="middle" font-size="10.3" fill="#222" >3800</text>
<text transform="translate(333.6 242.3) scale(0.94 1)" y="3.93" font-size="10.99" fill="#222"><tspan font-size="9.34">&#215;</tspan>10<tspan font-size="10.99" dx="-1.2" dy="-7">4</tspan></text>
<text transform="translate(409.5 265.9) scale(0.94 1)" y="3.69" text-anchor="middle" font-size="10.3" fill="#222" font-weight="bold" >f</text>
<text transform="translate(11 440.2) scale(0.94 1)" y="3.69" text-anchor="middle" font-size="10.3" fill="#222" font-weight="bold" >g</text>
<rect x="33.5" y="449.7" width="175.6" height="171.6" fill="#FFC5D1" stroke="none" stroke-width="1" />
<path d="M33.5,621.3 L33.5,550 L33.8,550 L36.8,551.9 L43.5,552.7 L51.6,552.7 L57,551.9 L62.4,550 L70.5,545.1 L78.6,541.1 L86.7,539.2 L97.5,538.6 L105.6,536.5 L113.7,533 L121.8,528.9 L129.9,525.4 L138,523.5 L146.1,524.9 L154.2,527.6 L162.3,531.8 L168.6,533.8 L172,534.9 L172,534.9 L179.8,534.9 L185,535.9 L188.2,538.6 L190.8,542.2 L193.4,546.4 L195.4,551 L197.3,556.2 L199.3,562.7 L200.6,569.2 L202.1,578.6 L204.3,587.9 L206.1,597.1 L207.5,605.7 L208.2,614.3 L208.7,621.3 L209.1,621.3 L209.1,621.3 Z" fill="#C7EAFE" stroke="none" stroke-width="1"/>
<path d="M172,534.9 C172.43,534.65 173.3,533.67 174.6,533.4 C175.9,533.13 178.07,533.18 179.8,533.3 C181.53,533.42 183.48,533.7 185,534.1 C186.52,534.5 187.72,534.95 188.9,535.7 C190.08,536.45 191.13,537.52 192.1,538.6 C193.07,539.68 193.72,540.78 194.7,542.2 C195.68,543.62 196.92,545.53 198,547.1 C199.08,548.67 200.12,549.98 201.2,551.6 C202.28,553.22 203.52,554.95 204.5,556.8 C205.48,558.65 206.52,561.07 207.1,562.7 C207.68,564.33 207.67,565.38 208,566.6 C208.33,567.82 208.92,569.43 209.1,570 L209.1,570 L209.1,621.3 208.7,621.3 C208.62,620.13 208.4,616.9 208.2,614.3 C208,611.7 207.85,608.57 207.5,605.7 C207.15,602.83 206.63,600.07 206.1,597.1 C205.57,594.13 204.97,590.98 204.3,587.9 C203.63,584.82 202.72,581.72 202.1,578.6 C201.48,575.48 201.07,571.85 200.6,569.2 C200.13,566.55 199.85,564.87 199.3,562.7 C198.75,560.53 197.95,558.15 197.3,556.2 C196.65,554.25 196.05,552.63 195.4,551 C194.75,549.37 194.17,547.87 193.4,546.4 C192.63,544.93 191.67,543.5 190.8,542.2 C189.93,540.9 189.17,539.65 188.2,538.6 C187.23,537.55 186.4,536.52 185,535.9 C183.6,535.28 181.97,535.07 179.8,534.9 C177.63,534.73 173.3,534.9 172,534.9 Z" fill="#2AB372" stroke="none" stroke-width="1"/>
<path d="M33.8,550 C34.3,550.32 35.18,551.45 36.8,551.9 C38.42,552.35 41.03,552.57 43.5,552.7 C45.97,552.83 49.35,552.83 51.6,552.7 C53.85,552.57 55.2,552.35 57,551.9 C58.8,551.45 60.15,551.13 62.4,550 C64.65,548.87 67.8,546.58 70.5,545.1 C73.2,543.62 75.9,542.08 78.6,541.1 C81.3,540.12 83.55,539.62 86.7,539.2 C89.85,538.78 94.35,539.05 97.5,538.6 C100.65,538.15 102.9,537.43 105.6,536.5 C108.3,535.57 111,534.27 113.7,533 C116.4,531.73 119.1,530.17 121.8,528.9 C124.5,527.63 127.2,526.3 129.9,525.4 C132.6,524.5 135.3,523.58 138,523.5 C140.7,523.42 143.4,524.22 146.1,524.9 C148.8,525.58 151.5,526.45 154.2,527.6 C156.9,528.75 159.9,530.77 162.3,531.8 C164.7,532.83 166.98,533.28 168.6,533.8 C170.22,534.32 171,534.97 172,534.9 C173,534.83 173.3,533.67 174.6,533.4 C175.9,533.13 178.07,533.18 179.8,533.3 C181.53,533.42 183.48,533.7 185,534.1 C186.52,534.5 187.72,534.95 188.9,535.7 C190.08,536.45 191.13,537.52 192.1,538.6 C193.07,539.68 193.72,540.78 194.7,542.2 C195.68,543.62 196.92,545.53 198,547.1 C199.08,548.67 200.12,549.98 201.2,551.6 C202.28,553.22 203.52,554.95 204.5,556.8 C205.48,558.65 206.52,561.07 207.1,562.7 C207.68,564.33 207.67,565.38 208,566.6 C208.33,567.82 208.92,569.43 209.1,570" fill="none" stroke="#2DB170" stroke-width="1.2"/>
<line x1="35.3" y1="449.7" x2="35.3" y2="621.3" stroke="#555" stroke-width="0.7" stroke-dasharray="1.6,1.2"/>
<line x1="58.2" y1="449.7" x2="58.2" y2="621.3" stroke="#555" stroke-width="0.7" stroke-dasharray="1.6,1.2"/>
<line x1="33.5" y1="553" x2="209.1" y2="553" stroke="#7a7a7a" stroke-width="0.9" stroke-dasharray="1.8,1.2"/>
<text transform="translate(46.7 463.3) rotate(-45) scale(0.94 1)" y="3.36" text-anchor="middle" font-size="9.39" fill="#A0A0A0" >3054</text>
<text transform="translate(72.4 463) rotate(-45) scale(0.94 1)" y="3.36" text-anchor="middle" font-size="9.39" fill="#A0A0A0" >3150</text>
<rect x="33.5" y="449.7" width="175.6" height="171.6" fill="none" stroke="#333" stroke-width="1.1" />
<line x1="33.5" y1="449.7" x2="36" y2="449.7" stroke="#333" stroke-width="0.9"/>
<text transform="translate(28.4 453.5) scale(0.94 1)" y="3.69" text-anchor="end" font-size="10.3" fill="#222" >100</text>
<line x1="33.5" y1="478.3" x2="36" y2="478.3" stroke="#333" stroke-width="0.9"/>
<text transform="translate(28.4 478.6) scale(0.94 1)" y="3.69" text-anchor="end" font-size="10.3" fill="#222" >95</text>
<line x1="33.5" y1="506.9" x2="36" y2="506.9" stroke="#333" stroke-width="0.9"/>
<text transform="translate(28.4 507.3) scale(0.94 1)" y="3.69" text-anchor="end" font-size="10.3" fill="#222" >90</text>
<line x1="33.5" y1="535.5" x2="36" y2="535.5" stroke="#333" stroke-width="0.9"/>
<text transform="translate(28.4 535.4) scale(0.94 1)" y="3.69" text-anchor="end" font-size="10.3" fill="#222" >85</text>
<line x1="33.5" y1="564.1" x2="36" y2="564.1" stroke="#333" stroke-width="0.9"/>
<text transform="translate(28.4 564.1) scale(0.94 1)" y="3.69" text-anchor="end" font-size="10.3" fill="#222" >80</text>
<line x1="33.5" y1="592.7" x2="36" y2="592.7" stroke="#333" stroke-width="0.9"/>
<text transform="translate(28.4 592.5) scale(0.94 1)" y="3.69" text-anchor="end" font-size="10.3" fill="#222" >75</text>
<line x1="33.5" y1="621.3" x2="36" y2="621.3" stroke="#333" stroke-width="0.9"/>
<text transform="translate(28.4 617.6) scale(0.94 1)" y="3.69" text-anchor="end" font-size="10.3" fill="#222" >70</text>
<line x1="46.6" y1="621.3" x2="46.6" y2="618.8" stroke="#333" stroke-width="0.9"/>
<line x1="70.55" y1="621.3" x2="70.55" y2="618.8" stroke="#333" stroke-width="0.9"/>
<line x1="94.5" y1="621.3" x2="94.5" y2="618.8" stroke="#333" stroke-width="0.9"/>
<line x1="118.45" y1="621.3" x2="118.45" y2="618.8" stroke="#333" stroke-width="0.9"/>
<line x1="142.4" y1="621.3" x2="142.4" y2="618.8" stroke="#333" stroke-width="0.9"/>
<line x1="166.35" y1="621.3" x2="166.35" y2="618.8" stroke="#333" stroke-width="0.9"/>
<line x1="190.3" y1="621.3" x2="190.3" y2="618.8" stroke="#333" stroke-width="0.9"/>
<text transform="translate(46.6 631) scale(0.94 1)" y="3.69" text-anchor="middle" font-size="10.3" fill="#222" >3100</text>
<text transform="translate(94.5 631) scale(0.94 1)" y="3.69" text-anchor="middle" font-size="10.3" fill="#222" >3300</text>
<text transform="translate(142.4 631) scale(0.94 1)" y="3.69" text-anchor="middle" font-size="10.3" fill="#222" >3500</text>
<text transform="translate(190.3 631) scale(0.94 1)" y="3.69" text-anchor="middle" font-size="10.3" fill="#222" >3700</text>
<text transform="translate(185.3 560.5) scale(0.94 1)" y="3.69" text-anchor="end" font-size="10.3" fill="#222" font-style="italic" >x = 81.9 %</text>
<text transform="translate(196.5 462.7) scale(0.94 1)" y="3.69" text-anchor="end" font-size="10.3" fill="#222" >Cell B</text>
<text transform="translate(5.3 533.5) rotate(-90) scale(0.94 1)" y="3.69" text-anchor="middle" font-size="10.3" fill="#222" >x (%)</text>
<text transform="translate(124.4 646.9) scale(0.94 1)" y="3.69" text-anchor="middle" font-size="10.3" fill="#222">Raman shift (cm<tspan font-size="6.38" dy="-3.4">-1</tspan><tspan dy="3.4">)</tspan></text>
<text transform="translate(237.9 439) scale(0.94 1)" y="3.69" text-anchor="middle" font-size="10.3" fill="#222" font-weight="bold" >i</text>
<rect x="247.3" y="448.7" width="176.6" height="172.4" fill="#FFC5D1" stroke="none" stroke-width="1" />
<path d="M247.3,621.1 L247.3,559.2 L247.7,559.2 L253.1,560 L259.9,558.6 L266.6,560 L272,560.5 L280.1,557.8 L288.2,554.6 L296.3,551.9 L304.4,550.2 L312.5,548.4 L320.6,546.2 L328.7,543.5 L336.8,540.8 L344.9,538.4 L353,537.6 L361.1,538.4 L369.2,540.3 L377.3,543.8 L386,548.3 L386,548.3 L391.1,550.7 L396.1,552.8 L401.2,554.9 L405.4,557.8 L409.6,562.1 L413,566.3 L416.4,571.4 L419.8,578.1 L421.9,584 L423.1,589.1 L423.9,592 L423.9,592 L423.9,621.1 Z" fill="#C7EAFE" stroke="none" stroke-width="1"/>
<path d="M386,548.3 C386.85,548.63 389.42,549.77 391.1,550.3 C392.78,550.83 394.42,551.23 396.1,551.5 C397.78,551.77 399.5,551.8 401.2,551.9 C402.9,552 404.62,552.23 406.3,552.1 C407.98,551.97 409.77,551.62 411.3,551.1 C412.83,550.58 414.23,549.85 415.5,549 C416.77,548.15 417.92,547.05 418.9,546 C419.88,544.95 420.7,543.97 421.4,542.7 C422.1,541.43 422.68,539.52 423.1,538.4 C423.52,537.28 423.77,536.4 423.9,536 L423.9,536 L423.9,592 423.9,592 C423.77,591.52 423.43,590.43 423.1,589.1 C422.77,587.77 422.45,585.83 421.9,584 C421.35,582.17 420.72,580.2 419.8,578.1 C418.88,576 417.53,573.37 416.4,571.4 C415.27,569.43 414.13,567.85 413,566.3 C411.87,564.75 410.87,563.52 409.6,562.1 C408.33,560.68 406.8,559 405.4,557.8 C404,556.6 402.75,555.73 401.2,554.9 C399.65,554.07 397.78,553.5 396.1,552.8 C394.42,552.1 392.78,551.45 391.1,550.7 C389.42,549.95 386.85,548.7 386,548.3 Z" fill="#2AB372" stroke="none" stroke-width="1"/>
<path d="M247.7,559.2 C248.6,559.33 251.07,560.1 253.1,560 C255.13,559.9 257.65,558.6 259.9,558.6 C262.15,558.6 264.58,559.68 266.6,560 C268.62,560.32 269.75,560.87 272,560.5 C274.25,560.13 277.4,558.78 280.1,557.8 C282.8,556.82 285.5,555.58 288.2,554.6 C290.9,553.62 293.6,552.63 296.3,551.9 C299,551.17 301.7,550.78 304.4,550.2 C307.1,549.62 309.8,549.07 312.5,548.4 C315.2,547.73 317.9,547.02 320.6,546.2 C323.3,545.38 326,544.4 328.7,543.5 C331.4,542.6 334.1,541.65 336.8,540.8 C339.5,539.95 342.2,538.93 344.9,538.4 C347.6,537.87 350.3,537.6 353,537.6 C355.7,537.6 358.4,537.95 361.1,538.4 C363.8,538.85 366.5,539.4 369.2,540.3 C371.9,541.2 374.5,542.47 377.3,543.8 C380.1,545.13 383.7,547.22 386,548.3 C388.3,549.38 389.42,549.77 391.1,550.3 C392.78,550.83 394.42,551.23 396.1,551.5 C397.78,551.77 399.5,551.8 401.2,551.9 C402.9,552 404.62,552.23 406.3,552.1 C407.98,551.97 409.77,551.62 411.3,551.1 C412.83,550.58 414.23,549.85 415.5,549 C416.77,548.15 417.92,547.05 418.9,546 C419.88,544.95 420.7,543.97 421.4,542.7 C422.1,541.43 422.68,539.52 423.1,538.4 C423.52,537.28 423.77,536.4 423.9,536" fill="none" stroke="#2DB170" stroke-width="1.2"/>
<line x1="249.3" y1="448.7" x2="249.3" y2="621.1" stroke="#555" stroke-width="0.7" stroke-dasharray="1.6,1.2"/>
<line x1="272.4" y1="448.7" x2="272.4" y2="621.1" stroke="#555" stroke-width="0.7" stroke-dasharray="1.6,1.2"/>
<line x1="247.3" y1="560.4" x2="423.9" y2="560.4" stroke="#7a7a7a" stroke-width="0.9" stroke-dasharray="1.8,1.2"/>
<text transform="translate(260.7 462.3) rotate(-45) scale(0.94 1)" y="3.36" text-anchor="middle" font-size="9.39" fill="#A0A0A0" >3054</text>
<text transform="translate(286.6 462) rotate(-45) scale(0.94 1)" y="3.36" text-anchor="middle" font-size="9.39" fill="#A0A0A0" >3150</text>
<rect x="247.3" y="448.7" width="176.6" height="172.4" fill="none" stroke="#333" stroke-width="1.1" />
<line x1="247.3" y1="448.7" x2="249.8" y2="448.7" stroke="#333" stroke-width="0.9"/>
<text transform="translate(242.4 452.9) scale(0.94 1)" y="3.69" text-anchor="end" font-size="10.3" fill="#222" >100</text>
<line x1="247.3" y1="477.43" x2="249.8" y2="477.43" stroke="#333" stroke-width="0.9"/>
<text transform="translate(242.4 478.2) scale(0.94 1)" y="3.69" text-anchor="end" font-size="10.3" fill="#222" >95</text>
<line x1="247.3" y1="506.17" x2="249.8" y2="506.17" stroke="#333" stroke-width="0.9"/>
<text transform="translate(242.4 506.2) scale(0.94 1)" y="3.69" text-anchor="end" font-size="10.3" fill="#222" >90</text>
<line x1="247.3" y1="534.9" x2="249.8" y2="534.9" stroke="#333" stroke-width="0.9"/>
<text transform="translate(242.4 535.6) scale(0.94 1)" y="3.69" text-anchor="end" font-size="10.3" fill="#222" >85</text>
<line x1="247.3" y1="563.63" x2="249.8" y2="563.63" stroke="#333" stroke-width="0.9"/>
<text transform="translate(242.4 563.9) scale(0.94 1)" y="3.69" text-anchor="end" font-size="10.3" fill="#222" >80</text>
<line x1="247.3" y1="592.37" x2="249.8" y2="592.37" stroke="#333" stroke-width="0.9"/>
<text transform="translate(242.4 592.5) scale(0.94 1)" y="3.69" text-anchor="end" font-size="10.3" fill="#222" >75</text>
<line x1="247.3" y1="621.1" x2="249.8" y2="621.1" stroke="#333" stroke-width="0.9"/>
<text transform="translate(242.4 620.1) scale(0.94 1)" y="3.69" text-anchor="end" font-size="10.3" fill="#222" >70</text>
<line x1="260.37" y1="621.1" x2="260.37" y2="618.6" stroke="#333" stroke-width="0.9"/>
<line x1="284.43" y1="621.1" x2="284.43" y2="618.6" stroke="#333" stroke-width="0.9"/>
<line x1="308.49" y1="621.1" x2="308.49" y2="618.6" stroke="#333" stroke-width="0.9"/>
<line x1="332.55" y1="621.1" x2="332.55" y2="618.6" stroke="#333" stroke-width="0.9"/>
<line x1="356.61" y1="621.1" x2="356.61" y2="618.6" stroke="#333" stroke-width="0.9"/>
<line x1="380.67" y1="621.1" x2="380.67" y2="618.6" stroke="#333" stroke-width="0.9"/>
<line x1="404.73" y1="621.1" x2="404.73" y2="618.6" stroke="#333" stroke-width="0.9"/>
<text transform="translate(263.17 631) scale(0.94 1)" y="3.69" text-anchor="middle" font-size="10.3" fill="#222" >3100</text>
<text transform="translate(311.29 631) scale(0.94 1)" y="3.69" text-anchor="middle" font-size="10.3" fill="#222" >3300</text>
<text transform="translate(359.41 631) scale(0.94 1)" y="3.69" text-anchor="middle" font-size="10.3" fill="#222" >3500</text>
<text transform="translate(407.53 631) scale(0.94 1)" y="3.69" text-anchor="middle" font-size="10.3" fill="#222" >3700</text>
<text transform="translate(408.9 566.8) scale(0.94 1)" y="3.69" text-anchor="end" font-size="10.3" fill="#222" font-style="italic" >x = 80.6 %</text>
<text transform="translate(419.5 462.8) scale(0.94 1)" y="3.69" text-anchor="end" font-size="10.3" fill="#222" >Cell C</text>
<rect x="435.3" y="448.3" width="18.2" height="57.8" fill="#FFC5D1" stroke="none" stroke-width="1" />
<rect x="435.3" y="506.1" width="18.2" height="57.6" fill="#2AB372" stroke="none" stroke-width="1" />
<rect x="435.3" y="563.7" width="18.2" height="57.3" fill="#C7EAFE" stroke="none" stroke-width="1" />
<rect x="435.3" y="448.3" width="18.2" height="172.7" fill="none" stroke="#555" stroke-width="1.1" />
<text transform="translate(444.4 477.2) rotate(-90) scale(0.94 1)" y="3.69" text-anchor="middle" font-size="10.3" fill="#333" >Negative</text>
<text transform="translate(444.4 534.9) rotate(-90) scale(0.94 1)" y="3.69" text-anchor="middle" font-size="10.3" fill="#fff" >&lt; Threshold</text>
<text transform="translate(444.4 592.35) rotate(-90) scale(0.94 1)" y="3.69" text-anchor="middle" font-size="10.3" fill="#333" >Positive</text>
<text transform="translate(221.4 534.3) rotate(-90) scale(0.94 1)" y="3.69" text-anchor="middle" font-size="10.3" fill="#222" >x (%)</text>
<text transform="translate(340 647.3) scale(0.94 1)" y="3.69" text-anchor="middle" font-size="10.3" fill="#222">Raman shift (cm<tspan font-size="6.38" dy="-3.4">-1</tspan><tspan dy="3.4">)</tspan></text>
<text transform="translate(10.7 652.4) scale(0.94 1)" y="3.69" text-anchor="middle" font-size="10.3" fill="#222" font-weight="bold" >h</text>
<path d="M32.6,735.8 C33.58,736 36.35,736.93 38.5,737 C40.65,737.07 43.15,736.4 45.5,736.2 C47.85,736 50.25,736.58 52.6,735.8 C54.95,735.02 57.27,733.1 59.6,731.5 C61.93,729.9 64.27,727.95 66.6,726.2 C68.93,724.45 71.57,722.32 73.6,721 C75.63,719.68 76.77,718.9 78.8,718.3 C80.83,717.7 83.75,717.68 85.8,717.4 C87.85,717.12 89.2,716.68 91.1,716.6 C93,716.52 94.87,717.2 97.2,716.9 C99.53,716.6 102.62,715.88 105.1,714.8 C107.58,713.72 110.23,712 112.1,710.4 C113.97,708.8 114.23,706.75 116.3,705.2 C118.37,703.65 122.1,701.95 124.5,701.1 C126.9,700.25 128.65,700.45 130.7,700.1 C132.75,699.75 135.25,699.15 136.8,699 C138.35,698.85 138.73,698.8 140,699.2 C141.27,699.6 142.65,700.3 144.4,701.4 C146.15,702.5 148.32,704.05 150.5,705.8 C152.68,707.55 155.32,710.02 157.5,711.9 C159.68,713.78 161.55,715.5 163.6,717.1 C165.65,718.7 167.6,719.88 169.8,721.5 C172,723.12 174.47,725.48 176.8,726.8 C179.13,728.12 181.18,728.38 183.8,729.4 C186.42,730.42 189.8,732.02 192.5,732.9 C195.2,733.78 197.08,734.2 200,734.7 C202.92,735.2 205.38,735.62 210,735.9 C214.62,736.18 224.75,736.32 227.7,736.4 L227.7,736.6 L32.6,736.6 Z" fill="#EEF6E4" stroke="none" stroke-width="1"/>
<line x1="32.4" y1="736.6" x2="227.7" y2="736.6" stroke="#C8C8C8" stroke-width="0.9"/>
<path d="M32.4,715.2 C32.83,715.72 33.4,717.57 35,718.3 C36.6,719.03 39.65,719.37 42,719.6 C44.35,719.83 47.33,719.92 49.1,719.7 C50.87,719.48 51.15,719.4 52.6,718.3 C54.05,717.2 56.05,715.13 57.8,713.1 C59.55,711.07 61.05,708.58 63.1,706.1 C65.15,703.62 67.77,700.98 70.1,698.2 C72.43,695.42 74.77,691.88 77.1,689.4 C79.43,686.92 81.92,684.75 84.1,683.3 C86.28,681.85 88.3,680.85 90.2,680.7 C92.1,680.55 93.6,681.97 95.5,682.4 C97.4,682.83 99.15,683.25 101.6,683.3 C104.05,683.35 107.4,683.13 110.2,682.7 C113,682.27 115.67,681.28 118.4,680.7 C121.13,680.12 124.05,679.03 126.6,679.2 C129.15,679.37 131.32,680.43 133.7,681.7 C136.08,682.97 138.97,685.27 140.9,686.8 C142.83,688.33 143.95,689.48 145.3,690.9 C146.65,692.32 147.7,693.85 149,695.3 C150.3,696.75 151.53,697.72 153.1,699.6 C154.67,701.48 156.5,704.27 158.4,706.6 C160.3,708.93 162.47,711.55 164.5,713.6 C166.53,715.65 168.55,717.13 170.6,718.9 C172.65,720.67 175.18,723.1 176.8,724.2 C178.42,725.3 178.85,724.92 180.3,725.5 C181.75,726.08 183.47,726.75 185.5,727.7 C187.53,728.65 190.08,730.12 192.5,731.2 C194.92,732.28 197.37,733.42 200,734.2 C202.63,734.98 203.68,735.5 208.3,735.9 C212.92,736.3 224.47,736.48 227.7,736.6" fill="none" stroke="#EDB120" stroke-width="1.2"/>
<path d="M32.6,735.8 C33.58,736 36.35,736.93 38.5,737 C40.65,737.07 43.15,736.4 45.5,736.2 C47.85,736 50.25,736.58 52.6,735.8 C54.95,735.02 57.27,733.1 59.6,731.5 C61.93,729.9 64.27,727.95 66.6,726.2 C68.93,724.45 71.57,722.32 73.6,721 C75.63,719.68 76.77,718.9 78.8,718.3 C80.83,717.7 83.75,717.68 85.8,717.4 C87.85,717.12 89.2,716.68 91.1,716.6 C93,716.52 94.87,717.2 97.2,716.9 C99.53,716.6 102.62,715.88 105.1,714.8 C107.58,713.72 110.23,712 112.1,710.4 C113.97,708.8 114.23,706.75 116.3,705.2 C118.37,703.65 122.1,701.95 124.5,701.1 C126.9,700.25 128.65,700.45 130.7,700.1 C132.75,699.75 135.25,699.15 136.8,699 C138.35,698.85 138.73,698.8 140,699.2 C141.27,699.6 142.65,700.3 144.4,701.4 C146.15,702.5 148.32,704.05 150.5,705.8 C152.68,707.55 155.32,710.02 157.5,711.9 C159.68,713.78 161.55,715.5 163.6,717.1 C165.65,718.7 167.6,719.88 169.8,721.5 C172,723.12 174.47,725.48 176.8,726.8 C179.13,728.12 181.18,728.38 183.8,729.4 C186.42,730.42 189.8,732.02 192.5,732.9 C195.2,733.78 197.08,734.2 200,734.7 C202.92,735.2 205.38,735.62 210,735.9 C214.62,736.18 224.75,736.32 227.7,736.4" fill="none" stroke="#77AC30" stroke-width="1.2"/>
<path d="M32.4,717.4 C34,717.78 38.93,719.25 42,719.7 C45.07,720.15 48.17,720.48 50.8,720.1 C53.43,719.72 55.17,718.42 57.8,717.4 C60.43,716.38 63.97,715.17 66.6,714 C69.23,712.83 71.27,711.87 73.6,710.4 C75.93,708.93 78.57,706.65 80.6,705.2 C82.63,703.75 84.2,702.48 85.8,701.7 C87.4,700.92 88.43,700.35 90.2,700.5 C91.97,700.65 93.92,701.52 96.4,702.6 C98.88,703.68 102.18,705.55 105.1,707 C108.02,708.45 111.35,710.07 113.9,711.3 C116.45,712.53 117.6,713.23 120.4,714.4 C123.2,715.57 127.43,716.97 130.7,718.3 C133.97,719.63 136.98,720.98 140,722.4 C143.02,723.82 145.88,725.48 148.8,726.8 C151.72,728.12 154.58,729.28 157.5,730.3 C160.42,731.32 163.38,732.17 166.3,732.9 C169.22,733.63 172.08,734.18 175,734.7 C177.92,735.22 179.63,735.58 183.8,736 C187.97,736.42 192.68,736.93 200,737.2 C207.32,737.47 223.08,737.53 227.7,737.6" fill="none" stroke="#7E2F8E" stroke-width="1.2" stroke-dasharray="1.8,1.2"/>
<line x1="32.4" y1="666.6" x2="32.4" y2="740.2" stroke="#262626" stroke-width="1.1"/>
<line x1="32.4" y1="740.2" x2="227.7" y2="740.2" stroke="#262626" stroke-width="1.1"/>
<line x1="32.4" y1="667" x2="34.7" y2="667" stroke="#262626" stroke-width="0.9"/>
<line x1="32.4" y1="684.4" x2="34.7" y2="684.4" stroke="#262626" stroke-width="0.9"/>
<line x1="32.4" y1="701.8" x2="34.7" y2="701.8" stroke="#262626" stroke-width="0.9"/>
<line x1="32.4" y1="719.2" x2="34.7" y2="719.2" stroke="#262626" stroke-width="0.9"/>
<line x1="32.4" y1="736.6" x2="34.7" y2="736.6" stroke="#262626" stroke-width="0.9"/>
<text transform="translate(29.5 673.2) scale(0.94 1)" y="3.69" text-anchor="end" font-size="10.3" fill="#222" >2</text>
<text transform="translate(29.5 700.9) scale(0.94 1)" y="3.69" text-anchor="end" font-size="10.3" fill="#222" >1</text>
<text transform="translate(29.5 735.8) scale(0.94 1)" y="3.69" text-anchor="end" font-size="10.3" fill="#222" >0</text>
<line x1="37.5" y1="740.2" x2="37.5" y2="737.9" stroke="#262626" stroke-width="0.9"/>
<line x1="64.67" y1="740.2" x2="64.67" y2="737.9" stroke="#262626" stroke-width="0.9"/>
<line x1="91.84" y1="740.2" x2="91.84" y2="737.9" stroke="#262626" stroke-width="0.9"/>
<line x1="119.01" y1="740.2" x2="119.01" y2="737.9" stroke="#262626" stroke-width="0.9"/>
<line x1="146.18" y1="740.2" x2="146.18" y2="737.9" stroke="#262626" stroke-width="0.9"/>
<line x1="173.35" y1="740.2" x2="173.35" y2="737.9" stroke="#262626" stroke-width="0.9"/>
<line x1="200.52" y1="740.2" x2="200.52" y2="737.9" stroke="#262626" stroke-width="0.9"/>
<line x1="227.69" y1="740.2" x2="227.69" y2="737.9" stroke="#262626" stroke-width="0.9"/>
<text transform="translate(42.5 748.8) scale(0.94 1)" y="3.69" text-anchor="middle" font-size="10.3" fill="#222" >3100</text>
<text transform="translate(92.14 748.8) scale(0.94 1)" y="3.69" text-anchor="middle" font-size="10.3" fill="#222" >3300</text>
<text transform="translate(145.18 748.8) scale(0.94 1)" y="3.69" text-anchor="middle" font-size="10.3" fill="#222" >3500</text>
<text transform="translate(199.72 748.8) scale(0.94 1)" y="3.69" text-anchor="middle" font-size="10.3" fill="#222" >3700</text>
<text transform="translate(30.8 660.8) scale(0.94 1)" y="3.69" font-size="10.3" fill="#222"><tspan font-size="8.75">&#215;</tspan>10<tspan font-size="10.3" dx="-1.2" dy="-7">4</tspan></text>
<text transform="translate(41.7 675) scale(0.94 1)" y="3.69" text-anchor="start" font-size="10.3" fill="#222" >Cell B</text>
<text transform="translate(6.3 700.7) rotate(-90) scale(0.94 1)" y="3.69" text-anchor="middle" font-size="10.3" fill="#222" >Counts</text>
<text transform="translate(126 763.1) scale(0.94 1)" y="3.69" text-anchor="middle" font-size="10.3" fill="#222">Raman shift (cm<tspan font-size="6.38" dy="-3.4">-1</tspan><tspan dy="3.4">)</tspan></text>
<text transform="translate(235.3 654.6) scale(0.94 1)" y="3.69" text-anchor="middle" font-size="10.3" fill="#222" font-weight="bold" >j</text>
<path d="M251.6,736.5 C253.17,736.45 257.68,736.32 261,736.2 C264.32,736.08 268.58,736.15 271.5,735.8 C274.42,735.45 276.17,734.97 278.5,734.1 C280.83,733.23 283.15,731.77 285.5,730.6 C287.85,729.43 290.25,728.12 292.6,727.1 C294.95,726.08 297.27,725.23 299.6,724.5 C301.93,723.77 304.57,723 306.6,722.7 C308.63,722.4 310.35,722.55 311.8,722.7 C313.25,722.85 313.83,724.03 315.3,723.6 C316.77,723.17 318.85,721.03 320.6,720.1 C322.35,719.17 324.05,718.73 325.8,718 C327.55,717.27 329.05,716.77 331.1,715.7 C333.15,714.63 335.95,712.78 338.1,711.6 C340.25,710.42 342.32,709.17 344,708.6 C345.68,708.03 346.48,708.37 348.2,708.2 C349.92,708.03 352.33,707.62 354.3,707.6 C356.27,707.58 358.17,707.8 360,708.1 C361.83,708.4 363.4,708.52 365.3,709.4 C367.2,710.28 369.37,712.08 371.4,713.4 C373.43,714.72 375.47,715.98 377.5,717.3 C379.53,718.62 381.55,720.05 383.6,721.3 C385.65,722.55 387.6,723.57 389.8,724.8 C392,726.03 394.47,727.47 396.8,728.7 C399.13,729.93 401.47,731.25 403.8,732.2 C406.13,733.15 408.1,733.82 410.8,734.4 C413.5,734.98 413.75,735.37 420,735.7 C426.25,736.03 443.58,736.28 448.3,736.4 L448.3,736.6 L251.6,736.6 Z" fill="#EEF6E4" stroke="none" stroke-width="1"/>
<line x1="251.4" y1="736.6" x2="448.3" y2="736.6" stroke="#C8C8C8" stroke-width="0.9"/>
<path d="M251.4,715.7 C251.83,715.98 252.68,716.97 254,717.4 C255.32,717.83 257.25,718 259.3,718.3 C261.35,718.6 264.27,719.35 266.3,719.2 C268.33,719.05 269.75,718.13 271.5,717.4 C273.25,716.67 274.75,716.4 276.8,714.8 C278.85,713.2 281.47,710.13 283.8,707.8 C286.13,705.47 288.47,703.13 290.8,700.8 C293.13,698.47 295.75,695.85 297.8,693.8 C299.85,691.75 301.63,689.75 303.1,688.5 C304.57,687.25 305.43,686.73 306.6,686.3 C307.77,685.87 308.65,685.77 310.1,685.9 C311.55,686.03 313.27,686.9 315.3,687.1 C317.33,687.3 319.97,687 322.3,687.1 C324.63,687.2 326.95,687.67 329.3,687.7 C331.65,687.73 334.62,687.45 336.4,687.3 C338.18,687.15 338.38,686.95 340,686.8 C341.62,686.65 344.05,686.07 346.1,686.4 C348.15,686.73 350.25,687.55 352.3,688.8 C354.35,690.05 356.82,692.72 358.4,693.9 C359.98,695.08 360.07,694.4 361.8,695.9 C363.53,697.4 366.62,700.72 368.8,702.9 C370.98,705.08 372.87,707.03 374.9,709 C376.93,710.97 379.1,713.02 381,714.7 C382.9,716.38 384.4,717.57 386.3,719.1 C388.2,720.63 390.37,722.3 392.4,723.9 C394.43,725.5 396.32,727.32 398.5,728.7 C400.68,730.08 403.17,731.25 405.5,732.2 C407.83,733.15 410.08,733.82 412.5,734.4 C414.92,734.98 414.03,735.33 420,735.7 C425.97,736.07 443.58,736.45 448.3,736.6" fill="none" stroke="#EDB120" stroke-width="1.2"/>
<path d="M251.6,736.5 C253.17,736.45 257.68,736.32 261,736.2 C264.32,736.08 268.58,736.15 271.5,735.8 C274.42,735.45 276.17,734.97 278.5,734.1 C280.83,733.23 283.15,731.77 285.5,730.6 C287.85,729.43 290.25,728.12 292.6,727.1 C294.95,726.08 297.27,725.23 299.6,724.5 C301.93,723.77 304.57,723 306.6,722.7 C308.63,722.4 310.35,722.55 311.8,722.7 C313.25,722.85 313.83,724.03 315.3,723.6 C316.77,723.17 318.85,721.03 320.6,720.1 C322.35,719.17 324.05,718.73 325.8,718 C327.55,717.27 329.05,716.77 331.1,715.7 C333.15,714.63 335.95,712.78 338.1,711.6 C340.25,710.42 342.32,709.17 344,708.6 C345.68,708.03 346.48,708.37 348.2,708.2 C349.92,708.03 352.33,707.62 354.3,707.6 C356.27,707.58 358.17,707.8 360,708.1 C361.83,708.4 363.4,708.52 365.3,709.4 C367.2,710.28 369.37,712.08 371.4,713.4 C373.43,714.72 375.47,715.98 377.5,717.3 C379.53,718.62 381.55,720.05 383.6,721.3 C385.65,722.55 387.6,723.57 389.8,724.8 C392,726.03 394.47,727.47 396.8,728.7 C399.13,729.93 401.47,731.25 403.8,732.2 C406.13,733.15 408.1,733.82 410.8,734.4 C413.5,734.98 413.75,735.37 420,735.7 C426.25,736.03 443.58,736.28 448.3,736.4" fill="none" stroke="#77AC30" stroke-width="1.2"/>
<path d="M251.4,717.4 C252.72,717.62 256.82,718.32 259.3,718.7 C261.78,719.08 263.68,720.05 266.3,719.7 C268.92,719.35 272.08,717.7 275,716.6 C277.92,715.5 280.87,714.27 283.8,713.1 C286.73,711.93 289.97,711.07 292.6,709.6 C295.23,708.13 297.57,705.7 299.6,704.3 C301.63,702.9 303.2,701.93 304.8,701.2 C306.4,700.47 307.45,699.82 309.2,699.9 C310.95,699.98 313.12,700.82 315.3,701.7 C317.48,702.58 319.97,704.03 322.3,705.2 C324.63,706.37 326.35,707.52 329.3,708.7 C332.25,709.88 336.52,710.82 340,712.3 C343.48,713.78 346.72,715.82 350.2,717.6 C353.68,719.38 357.8,721.43 360.9,723 C364,724.57 366.03,725.75 368.8,727 C371.57,728.25 374.58,729.55 377.5,730.5 C380.42,731.45 383.38,731.98 386.3,732.7 C389.22,733.42 392.08,734.22 395,734.8 C397.92,735.38 399.63,735.83 403.8,736.2 C407.97,736.57 412.58,736.77 420,737 C427.42,737.23 443.58,737.5 448.3,737.6" fill="none" stroke="#7E2F8E" stroke-width="1.2" stroke-dasharray="1.8,1.2"/>
<line x1="251.4" y1="666.6" x2="251.4" y2="740.7" stroke="#262626" stroke-width="1.1"/>
<line x1="251.4" y1="740.7" x2="448.3" y2="740.7" stroke="#262626" stroke-width="1.1"/>
<line x1="251.4" y1="667" x2="253.7" y2="667" stroke="#262626" stroke-width="0.9"/>
<line x1="251.4" y1="684.4" x2="253.7" y2="684.4" stroke="#262626" stroke-width="0.9"/>
<line x1="251.4" y1="701.8" x2="253.7" y2="701.8" stroke="#262626" stroke-width="0.9"/>
<line x1="251.4" y1="719.2" x2="253.7" y2="719.2" stroke="#262626" stroke-width="0.9"/>
<line x1="251.4" y1="736.6" x2="253.7" y2="736.6" stroke="#262626" stroke-width="0.9"/>
<text transform="translate(248.5 673.2) scale(0.94 1)" y="3.69" text-anchor="end" font-size="10.3" fill="#222" >2</text>
<text transform="translate(248.5 700.9) scale(0.94 1)" y="3.69" text-anchor="end" font-size="10.3" fill="#222" >1</text>
<text transform="translate(248.5 735.8) scale(0.94 1)" y="3.69" text-anchor="end" font-size="10.3" fill="#222" >0</text>
<line x1="256.6" y1="740.7" x2="256.6" y2="738.4" stroke="#262626" stroke-width="0.9"/>
<line x1="283.99" y1="740.7" x2="283.99" y2="738.4" stroke="#262626" stroke-width="0.9"/>
<line x1="311.38" y1="740.7" x2="311.38" y2="738.4" stroke="#262626" stroke-width="0.9"/>
<line x1="338.77" y1="740.7" x2="338.77" y2="738.4" stroke="#262626" stroke-width="0.9"/>
<line x1="366.16" y1="740.7" x2="366.16" y2="738.4" stroke="#262626" stroke-width="0.9"/>
<line x1="393.55" y1="740.7" x2="393.55" y2="738.4" stroke="#262626" stroke-width="0.9"/>
<line x1="420.94" y1="740.7" x2="420.94" y2="738.4" stroke="#262626" stroke-width="0.9"/>
<line x1="448.33" y1="740.7" x2="448.33" y2="738.4" stroke="#262626" stroke-width="0.9"/>
<text transform="translate(261.6 748.8) scale(0.94 1)" y="3.69" text-anchor="middle" font-size="10.3" fill="#222" >3100</text>
<text transform="translate(311.68 748.8) scale(0.94 1)" y="3.69" text-anchor="middle" font-size="10.3" fill="#222" >3300</text>
<text transform="translate(365.16 748.8) scale(0.94 1)" y="3.69" text-anchor="middle" font-size="10.3" fill="#222" >3500</text>
<text transform="translate(420.14 748.8) scale(0.94 1)" y="3.69" text-anchor="middle" font-size="10.3" fill="#222" >3700</text>
<text transform="translate(249.8 660.8) scale(0.94 1)" y="3.69" font-size="10.3" fill="#222"><tspan font-size="8.75">&#215;</tspan>10<tspan font-size="10.3" dx="-1.2" dy="-7">4</tspan></text>
<text transform="translate(264.3 675) scale(0.94 1)" y="3.69" text-anchor="start" font-size="10.3" fill="#222" >Cell C</text>
<text transform="translate(236.4 700.7) rotate(-90) scale(0.94 1)" y="3.69" text-anchor="middle" font-size="10.3" fill="#222" >Counts</text>
<text transform="translate(350 763.1) scale(0.94 1)" y="3.69" text-anchor="middle" font-size="10.3" fill="#222">Raman shift (cm<tspan font-size="6.38" dy="-3.4">-1</tspan><tspan dy="3.4">)</tspan></text>
<line x1="367.2" y1="664.7" x2="382.9" y2="664.7" stroke="#EDB120" stroke-width="1.2"/>
<text transform="translate(386.6 664.7) scale(0.94 1)" y="3.69" text-anchor="start" font-size="10.3" fill="#222" >SC Spectrum</text>
<line x1="367.2" y1="677.8" x2="382.9" y2="677.8" stroke="#7E2F8E" stroke-width="1.2" stroke-dasharray="2.4,1.4"/>
<text transform="translate(386.6 677.8) scale(0.94 1)" y="3.69" text-anchor="start" font-size="10.3" fill="#222" >Dehydrated Cell</text>
<line x1="367.2" y1="690.9" x2="382.9" y2="690.9" stroke="#77AC30" stroke-width="1.2"/>
<text transform="translate(386.6 690.9) scale(0.94 1)" y="3.69" text-anchor="start" font-size="10.3" fill="#222" >Biointerfacial Water</text>
<text transform="translate(489.5 439.5) scale(0.94 1)" y="3.69" text-anchor="middle" font-size="10.3" fill="#222" font-weight="bold" >k</text>
<text transform="translate(576.7 446.3) scale(0.94 1)" y="3.69" text-anchor="middle" font-size="10.3" fill="#222" >Biointerfacial Water (%)</text>
<text transform="translate(488 533.6) rotate(-90) scale(0.94 1)" y="3.69" text-anchor="middle" font-size="10.3" fill="#222" >Abundance&#160; (%)</text>
<line x1="509.6" y1="594.15" x2="512.1" y2="594.15" stroke="#262626" stroke-width="0.9"/>
<text transform="translate(507.5 593.65) scale(0.94 1)" y="3.69" text-anchor="end" font-size="10.3" fill="#222" >1</text>
<line x1="509.6" y1="558.9" x2="512.1" y2="558.9" stroke="#262626" stroke-width="0.9"/>
<text transform="translate(507.5 558.4) scale(0.94 1)" y="3.69" text-anchor="end" font-size="10.3" fill="#222" >2</text>
<line x1="509.6" y1="523.65" x2="512.1" y2="523.65" stroke="#262626" stroke-width="0.9"/>
<text transform="translate(507.5 523.15) scale(0.94 1)" y="3.69" text-anchor="end" font-size="10.3" fill="#222" >3</text>
<line x1="509.6" y1="488.4" x2="512.1" y2="488.4" stroke="#262626" stroke-width="0.9"/>
<text transform="translate(507.5 487.9) scale(0.94 1)" y="3.69" text-anchor="end" font-size="10.3" fill="#222" >4</text>
<line x1="509.6" y1="453.15" x2="512.1" y2="453.15" stroke="#262626" stroke-width="0.9"/>
<text transform="translate(507.5 452.65) scale(0.94 1)" y="3.69" text-anchor="end" font-size="10.3" fill="#222" >5</text>
<rect x="521.4" y="520.48" width="24.3" height="108.82" fill="#D1D2D4" stroke="#1a1a1a" stroke-width="1.1" />
<rect x="569.3" y="481.35" width="24.3" height="147.95" fill="#FF8E8E" stroke="#1a1a1a" stroke-width="1.1" />
<rect x="617.6" y="596.44" width="24.2" height="32.86" fill="#FFF0A0" stroke="#1a1a1a" stroke-width="1.1" />
<circle cx="531.75" cy="520.89" r="1.3" fill="#9C9C9C" fill-opacity="0.9"/>
<circle cx="534.45" cy="508.67" r="1.3" fill="#9C9C9C" fill-opacity="0.9"/>
<circle cx="527.65" cy="524.63" r="1.3" fill="#9C9C9C" fill-opacity="0.9"/>
<circle cx="537.13" cy="524.65" r="1.3" fill="#9C9C9C" fill-opacity="0.9"/>
<circle cx="538.95" cy="522.34" r="1.3" fill="#9C9C9C" fill-opacity="0.9"/>
<circle cx="532.91" cy="514.17" r="1.3" fill="#9C9C9C" fill-opacity="0.9"/>
<circle cx="534.85" cy="515.67" r="1.3" fill="#9C9C9C" fill-opacity="0.9"/>
<circle cx="529.23" cy="532.18" r="1.3" fill="#9C9C9C" fill-opacity="0.9"/>
<circle cx="533.52" cy="535.98" r="1.3" fill="#9C9C9C" fill-opacity="0.9"/>
<circle cx="536.02" cy="537.84" r="1.3" fill="#9C9C9C" fill-opacity="0.9"/>
<circle cx="536.22" cy="523.71" r="1.3" fill="#9C9C9C" fill-opacity="0.9"/>
<circle cx="534.3" cy="525.28" r="1.3" fill="#9C9C9C" fill-opacity="0.9"/>
<circle cx="537.45" cy="522.73" r="1.3" fill="#9C9C9C" fill-opacity="0.9"/>
<circle cx="532.94" cy="519.37" r="1.3" fill="#9C9C9C" fill-opacity="0.9"/>
<circle cx="535.71" cy="526.12" r="1.3" fill="#9C9C9C" fill-opacity="0.9"/>
<circle cx="538.09" cy="543.2" r="1.3" fill="#9C9C9C" fill-opacity="0.9"/>
<circle cx="532.61" cy="536.9" r="1.3" fill="#9C9C9C" fill-opacity="0.9"/>
<circle cx="538.26" cy="510.24" r="1.3" fill="#9C9C9C" fill-opacity="0.9"/>
<circle cx="529.06" cy="518.42" r="1.3" fill="#9C9C9C" fill-opacity="0.9"/>
<circle cx="530" cy="525.19" r="1.3" fill="#9C9C9C" fill-opacity="0.9"/>
<circle cx="534.71" cy="510.83" r="1.3" fill="#9C9C9C" fill-opacity="0.9"/>
<circle cx="530.96" cy="524.32" r="1.3" fill="#9C9C9C" fill-opacity="0.9"/>
<circle cx="531.54" cy="532.32" r="1.3" fill="#9C9C9C" fill-opacity="0.9"/>
<circle cx="534.23" cy="522.36" r="1.3" fill="#9C9C9C" fill-opacity="0.9"/>
<circle cx="535.34" cy="541.66" r="1.3" fill="#9C9C9C" fill-opacity="0.9"/>
<circle cx="538.18" cy="533.45" r="1.3" fill="#9C9C9C" fill-opacity="0.9"/>
<circle cx="535.22" cy="547.36" r="1.3" fill="#9C9C9C" fill-opacity="0.9"/>
<circle cx="538.59" cy="510.99" r="1.3" fill="#9C9C9C" fill-opacity="0.9"/>
<circle cx="537.9" cy="503.95" r="1.3" fill="#9C9C9C" fill-opacity="0.9"/>
<circle cx="529.93" cy="537.06" r="1.3" fill="#9C9C9C" fill-opacity="0.9"/>
<circle cx="537.06" cy="528.92" r="1.3" fill="#9C9C9C" fill-opacity="0.9"/>
<circle cx="528.23" cy="529.64" r="1.3" fill="#9C9C9C" fill-opacity="0.9"/>
<circle cx="537.32" cy="525.75" r="1.3" fill="#9C9C9C" fill-opacity="0.9"/>
<circle cx="536.71" cy="517.34" r="1.3" fill="#9C9C9C" fill-opacity="0.9"/>
<circle cx="532.22" cy="522.18" r="1.3" fill="#9C9C9C" fill-opacity="0.9"/>
<circle cx="536.34" cy="516.74" r="1.3" fill="#9C9C9C" fill-opacity="0.9"/>
<circle cx="537.54" cy="514.73" r="1.3" fill="#9C9C9C" fill-opacity="0.9"/>
<circle cx="528.02" cy="507.84" r="1.3" fill="#9C9C9C" fill-opacity="0.9"/>
<circle cx="535.76" cy="517.89" r="1.3" fill="#9C9C9C" fill-opacity="0.9"/>
<circle cx="538.78" cy="532.51" r="1.3" fill="#9C9C9C" fill-opacity="0.9"/>
<circle cx="533.31" cy="502.83" r="1.3" fill="#9C9C9C" fill-opacity="0.9"/>
<circle cx="528.39" cy="512.78" r="1.3" fill="#9C9C9C" fill-opacity="0.9"/>
<circle cx="534.4" cy="521.97" r="1.3" fill="#9C9C9C" fill-opacity="0.9"/>
<circle cx="532.19" cy="515.01" r="1.3" fill="#9C9C9C" fill-opacity="0.9"/>
<circle cx="534.52" cy="520.51" r="1.3" fill="#9C9C9C" fill-opacity="0.9"/>
<circle cx="537.48" cy="520.16" r="1.3" fill="#9C9C9C" fill-opacity="0.9"/>
<circle cx="531.11" cy="519.3" r="1.3" fill="#9C9C9C" fill-opacity="0.9"/>
<circle cx="531.84" cy="527.67" r="1.3" fill="#9C9C9C" fill-opacity="0.9"/>
<circle cx="534.9" cy="534.31" r="1.3" fill="#9C9C9C" fill-opacity="0.9"/>
<circle cx="534.35" cy="518.73" r="1.3" fill="#9C9C9C" fill-opacity="0.9"/>
<circle cx="538.32" cy="535.59" r="1.3" fill="#9C9C9C" fill-opacity="0.9"/>
<circle cx="533.33" cy="527.24" r="1.3" fill="#9C9C9C" fill-opacity="0.9"/>
<circle cx="530.23" cy="537.22" r="1.3" fill="#9C9C9C" fill-opacity="0.9"/>
<circle cx="530.96" cy="514.81" r="1.3" fill="#9C9C9C" fill-opacity="0.9"/>
<circle cx="533.81" cy="509.18" r="1.3" fill="#9C9C9C" fill-opacity="0.9"/>
<circle cx="527.63" cy="523.67" r="1.3" fill="#9C9C9C" fill-opacity="0.9"/>
<circle cx="527.73" cy="533.89" r="1.3" fill="#9C9C9C" fill-opacity="0.9"/>
<circle cx="534.58" cy="514.81" r="1.3" fill="#9C9C9C" fill-opacity="0.9"/>
<circle cx="534.71" cy="524.4" r="1.3" fill="#9C9C9C" fill-opacity="0.9"/>
<circle cx="532.86" cy="524.64" r="1.3" fill="#9C9C9C" fill-opacity="0.9"/>
<circle cx="579.5" cy="465.2" r="1.3" fill="#E0582A"/>
<circle cx="583" cy="472.5" r="1.3" fill="#E0582A"/>
<circle cx="585.6" cy="474" r="1.3" fill="#E0582A"/>
<circle cx="577.4" cy="477.4" r="1.3" fill="#E0582A"/>
<circle cx="589.4" cy="479.6" r="1.3" fill="#E0582A"/>
<circle cx="580" cy="483" r="1.3" fill="#E0582A"/>
<circle cx="586.9" cy="483.6" r="1.3" fill="#E0582A"/>
<circle cx="591" cy="482.6" r="1.3" fill="#E0582A"/>
<circle cx="576.5" cy="486.3" r="1.3" fill="#E0582A"/>
<circle cx="584.5" cy="486.3" r="1.3" fill="#E0582A"/>
<circle cx="577.2" cy="491.8" r="1.3" fill="#E0582A"/>
<circle cx="588.5" cy="491.4" r="1.3" fill="#E0582A"/>
<circle cx="582" cy="489.5" r="1.3" fill="#E0582A"/>
<circle cx="626.8" cy="581.9" r="1.3" fill="#F2B01E"/>
<circle cx="624.8" cy="591.6" r="1.3" fill="#F2B01E"/>
<circle cx="633.9" cy="589.7" r="1.3" fill="#F2B01E"/>
<circle cx="629.4" cy="596.2" r="1.3" fill="#F2B01E"/>
<circle cx="635.2" cy="597.5" r="1.3" fill="#F2B01E"/>
<circle cx="624.5" cy="602.3" r="1.3" fill="#F2B01E"/>
<circle cx="631.5" cy="603.8" r="1.3" fill="#F2B01E"/>
<circle cx="628.8" cy="605.1" r="1.3" fill="#F2B01E"/>
<circle cx="633.5" cy="601.5" r="1.3" fill="#F2B01E"/>
<line x1="534" y1="531.4" x2="534" y2="509.55" stroke="#1a1a1a" stroke-width="1"/>
<line x1="530.7" y1="531.4" x2="537.3" y2="531.4" stroke="#1a1a1a" stroke-width="1"/>
<line x1="530.7" y1="509.55" x2="537.3" y2="509.55" stroke="#1a1a1a" stroke-width="1"/>
<line x1="582.2" y1="488.4" x2="582.2" y2="473.59" stroke="#1a1a1a" stroke-width="1"/>
<line x1="578.9" y1="488.4" x2="585.5" y2="488.4" stroke="#1a1a1a" stroke-width="1"/>
<line x1="578.9" y1="473.59" x2="585.5" y2="473.59" stroke="#1a1a1a" stroke-width="1"/>
<line x1="630.1" y1="604.37" x2="630.1" y2="589.57" stroke="#1a1a1a" stroke-width="1"/>
<line x1="626.8" y1="604.37" x2="633.4" y2="604.37" stroke="#1a1a1a" stroke-width="1"/>
<line x1="626.8" y1="589.57" x2="633.4" y2="589.57" stroke="#1a1a1a" stroke-width="1"/>
<line x1="509.6" y1="452" x2="509.6" y2="629.3" stroke="#262626" stroke-width="1.1"/>
<line x1="509.6" y1="629.3" x2="653.7" y2="629.3" stroke="#262626" stroke-width="1.1"/>
<line x1="533.4" y1="629.3" x2="533.4" y2="632.5" stroke="#262626" stroke-width="0.9"/>
<line x1="581.3" y1="629.3" x2="581.3" y2="632.5" stroke="#262626" stroke-width="0.9"/>
<line x1="629.6" y1="629.3" x2="629.6" y2="632.5" stroke="#262626" stroke-width="0.9"/>
<text transform="translate(533.4 640.5) scale(0.94 1)" y="3.69" text-anchor="middle" font-size="10.3" fill="#222" >HeLa in</text>
<text transform="translate(533.4 651.9) scale(0.94 1)" y="3.69" text-anchor="middle" font-size="10.3" fill="#222" >PBS</text>
<text transform="translate(583.6 640.5) scale(0.94 1)" y="3.69" text-anchor="middle" font-size="10.3" fill="#222" >Adding</text>
<text transform="translate(583.6 651.9) scale(0.94 1)" y="3.69" text-anchor="middle" font-size="10.3" fill="#222" >sugar</text>
<text transform="translate(635 640.5) scale(0.94 1)" y="3.69" text-anchor="middle" font-size="10.3" fill="#222" >Adding</text>
<text transform="translate(635.5 651.9) scale(0.94 1)" y="3.69" text-anchor="middle" font-size="10.3" fill="#222" >DI water</text>
<defs><radialGradient id="cg" cx="0.45" cy="0.4" r="0.7"><stop offset="0" stop-color="#ABC6E4"/><stop offset="0.75" stop-color="#9EBDE0"/><stop offset="1" stop-color="#93B5DB"/></radialGradient><radialGradient id="cg2" cx="0.42" cy="0.38" r="0.72"><stop offset="0" stop-color="#C2D6EC"/><stop offset="0.6" stop-color="#AEC8E5"/><stop offset="1" stop-color="#98B8DB"/></radialGradient><radialGradient id="cg3" cx="0.4" cy="0.4" r="0.7"><stop offset="0" stop-color="#C0D4EB"/><stop offset="0.7" stop-color="#A9C4E3"/><stop offset="1" stop-color="#9ABADD"/></radialGradient></defs>
<path d="M526.7,703.1 C528,703.35 532.42,703.7 534.5,704.6 C536.58,705.5 538.03,706.8 539.2,708.5 C540.37,710.2 541.25,712.58 541.5,714.8 C541.75,717.02 541.47,719.73 540.7,721.8 C539.93,723.87 538.58,725.77 536.9,727.2 C535.22,728.63 532.82,729.8 530.6,730.4 C528.38,731 525.93,731.2 523.6,730.8 C521.27,730.4 518.28,729.5 516.6,728 C514.92,726.5 513.9,724.13 513.5,721.8 C513.1,719.47 513.55,716.22 514.2,714 C514.85,711.78 516.22,710 517.4,708.5 C518.58,707 519.75,705.9 521.3,705 C522.85,704.1 524.5,703.17 526.7,703.1 C528.9,703.03 532.42,703.7 534.5,704.6 C536.58,705.5 538.42,707.85 539.2,708.5 Z" fill="url(#cg)" stroke="none" stroke-width="1"/>
<path d="M569.9,707.6 C570.37,707.4 572.39,706.26 573.4,706.1 C574.41,705.94 576.57,706.44 577.5,706.4 C578.43,706.36 579.47,705.8 580.4,705.8 C581.33,705.8 583.49,706.16 584.5,706.4 C585.51,706.64 587.21,707.09 588,707.6 C588.79,708.11 589.69,709.55 590.4,710.2 C591.11,710.85 593.07,711.95 593.3,712.5 C593.53,713.05 592.73,713.75 592.1,714.3 C591.47,714.85 588.99,715.99 588.6,716.6 C588.21,717.21 588.92,718.19 589.2,718.9 C589.48,719.61 590.94,721.46 590.7,721.9 C590.46,722.34 588.37,722.28 587.4,722.2 C586.43,722.12 584.17,721.11 583.4,721.3 C582.63,721.49 582.39,723.05 581.6,723.6 C580.81,724.15 578.51,724.97 577.5,725.4 C576.49,725.83 574.93,726.53 574,726.8 C573.07,727.07 571.23,727.67 570.5,727.4 C569.77,727.13 568.73,725.69 568.5,724.8 C568.27,723.91 569.12,721.59 568.8,720.7 C568.48,719.81 566.5,718.65 566.1,718.1 C565.7,717.55 565.44,717.11 565.8,716.6 C566.16,716.09 568.21,714.93 568.8,714.3 C569.39,713.67 570.13,712.57 570.2,711.9 C570.27,711.23 569.34,709.87 569.3,709.3 C569.26,708.73 569.35,708.03 569.9,707.6 C570.45,707.17 572.93,706.3 573.4,706.1 Z" fill="url(#cg3)" stroke="none" stroke-width="1"/>
<path d="M655.95,714.7 C655.9,715.28 655.9,717.06 655.69,718.21 C655.49,719.36 655.15,720.51 654.71,721.59 C654.26,722.68 653.69,723.73 653.05,724.71 C652.4,725.68 651.63,726.6 650.82,727.44 C650,728.28 649.1,729.04 648.16,729.73 C647.22,730.42 646.21,731.02 645.18,731.56 C644.15,732.09 643.07,732.55 641.97,732.93 C640.87,733.32 639.74,733.63 638.6,733.85 C637.45,734.08 636.28,734.23 635.1,734.29 C633.92,734.34 632.72,734.32 631.54,734.18 C630.36,734.05 629.17,733.82 628.02,733.48 C626.88,733.14 625.74,732.69 624.68,732.14 C623.62,731.58 622.59,730.92 621.66,730.17 C620.73,729.42 619.87,728.56 619.12,727.65 C618.37,726.74 617.7,725.74 617.15,724.71 C616.6,723.68 616.16,722.58 615.82,721.48 C615.48,720.38 615.24,719.24 615.1,718.11 C614.95,716.98 614.91,715.83 614.95,714.7 C614.98,713.57 615.11,712.44 615.31,711.33 C615.52,710.22 615.81,709.12 616.18,708.05 C616.55,706.98 617,705.92 617.54,704.91 C618.08,703.9 618.7,702.9 619.41,701.98 C620.12,701.07 620.92,700.18 621.8,699.39 C622.68,698.61 623.65,697.88 624.68,697.26 C625.7,696.65 626.82,696.12 627.95,695.72 C629.08,695.32 630.29,695.03 631.48,694.85 C632.67,694.68 633.9,694.63 635.1,694.69 C636.3,694.74 637.51,694.92 638.66,695.18 C639.82,695.45 640.96,695.82 642.05,696.26 C643.13,696.71 644.18,697.25 645.18,697.84 C646.17,698.44 647.12,699.11 648.01,699.84 C648.91,700.56 649.75,701.35 650.52,702.2 C651.3,703.04 652.02,703.95 652.66,704.91 C653.3,705.86 653.88,706.88 654.35,707.93 C654.81,708.99 655.21,710.1 655.47,711.23 C655.74,712.36 655.91,713.54 655.95,714.7 C655.98,715.86 655.73,717.62 655.69,718.21 Z" fill="url(#cg2)" stroke="none" stroke-width="1"/>
<path d="M521,682.8 L521,697.9 L519.2,697.9 L522.8,707.7 L526.4,697.9 L524.6,697.9 L524.6,682.8 Z" fill="#D3D3D3" stroke="#111" stroke-width="0.8" stroke-linejoin="miter"/>
<path d="M530.2,707 L530.2,692 L528.4,692 L532,682.5 L535.6,692 L533.8,692 L533.8,707 Z" fill="#D3D3D3" stroke="#111" stroke-width="0.8" stroke-linejoin="miter"/>
<path d="M574.1,706.6 L574.1,691.5 L572.3,691.5 L575.9,682 L579.5,691.5 L577.7,691.5 L577.7,706.6 Z" fill="#F48C8C" stroke="#111" stroke-width="0.8" stroke-linejoin="miter"/>
<path d="M583.3,706.6 L583.3,691.5 L581.5,691.5 L585.1,682 L588.7,691.5 L586.9,691.5 L586.9,706.6 Z" fill="#F48C8C" stroke="#111" stroke-width="0.8" stroke-linejoin="miter"/>
<path d="M628.9,682.2 L628.9,696.5 L627.1,696.5 L630.7,706.3 L634.3,696.5 L632.5,696.5 L632.5,682.2 Z" fill="#F8EC8E" stroke="#111" stroke-width="0.8" stroke-linejoin="miter"/>
<path d="M638.8,682.2 L638.8,696.5 L637,696.5 L640.6,706.3 L644.2,696.5 L642.4,696.5 L642.4,682.2 Z" fill="#F8EC8E" stroke="#111" stroke-width="0.8" stroke-linejoin="miter"/>
<text transform="translate(497.7 693.3) scale(0.94 1)" y="3.69" font-size="10.3" fill="#222">H<tspan font-size="7.21" dy="2.6">2</tspan><tspan dy="-2.6">O</tspan></text>
<text transform="translate(571.9 674.8) scale(0.94 1)" y="3.69" font-size="10.3" fill="#222">H<tspan font-size="7.21" dy="2.6">2</tspan><tspan dy="-2.6">O</tspan></text>
<text transform="translate(626.3 713.6) scale(0.94 1)" y="3.69" font-size="10.3" fill="#222">H<tspan font-size="7.21" dy="2.6">2</tspan><tspan dy="-2.6">O</tspan></text>
<text transform="translate(525 744.7) scale(0.94 1)" y="3.69" text-anchor="middle" font-size="10.3" fill="#222" >Isotonic</text>
<text transform="translate(525 756.2) scale(0.94 1)" y="3.69" text-anchor="middle" font-size="10.3" fill="#222" >Solution</text>
<text transform="translate(579.3 744.7) scale(0.94 1)" y="3.69" text-anchor="middle" font-size="10.3" fill="#222" >Hypertonic</text>
<text transform="translate(579.3 756.2) scale(0.94 1)" y="3.69" text-anchor="middle" font-size="10.3" fill="#222" >Solution</text>
<text transform="translate(636.4 744.7) scale(0.94 1)" y="3.69" text-anchor="middle" font-size="10.3" fill="#222" >Hypotonic</text>
<text transform="translate(636.4 756.2) scale(0.94 1)" y="3.69" text-anchor="middle" font-size="10.3" fill="#222" >Solution</text>
</svg></body></html>
